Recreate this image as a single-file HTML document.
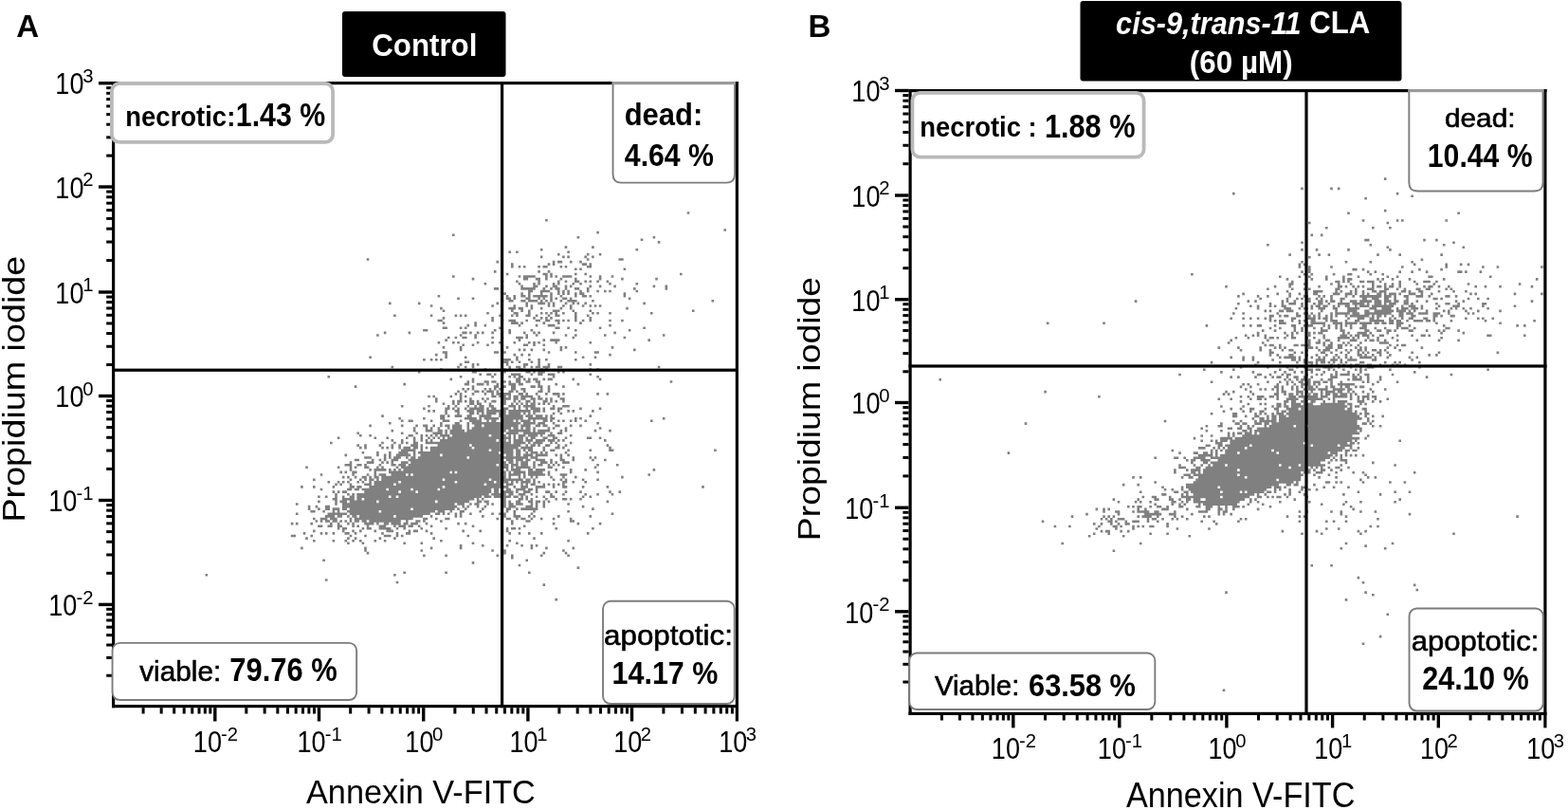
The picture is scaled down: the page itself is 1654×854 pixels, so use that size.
<!DOCTYPE html><html><head><meta charset="utf-8"><title>Annexin V / PI flow cytometry</title><style>html,body{margin:0;padding:0;background:#fff;width:1654px;height:854px;overflow:hidden}svg{display:block}</style></head><body><svg width="1654" height="854" viewBox="0 0 1654 854" font-family="'Liberation Sans', Arial, sans-serif">
<rect width="1654" height="854" fill="#fff"/>
<path fill="#808080" d="M724.7 223.2h2.6v2.58h-2.6zM575.1 230.9h2.6v2.58h-2.6zM763.4 241.2h2.6v2.58h-2.6zM629.3 243.8h2.6v2.58h-2.6zM477.0 246.4h2.6v2.58h-2.6zM608.6 249.0h2.6v2.58h-2.6zM688.6 249.0h2.6v2.58h-2.6zM675.7 251.5h2.6v2.58h-2.6zM693.8 254.1h2.6v2.58h-2.6zM595.7 259.3h2.6v2.58h-2.6zM624.1 259.3h2.6v2.58h-2.6zM569.9 261.9h2.6v2.58h-2.6zM670.5 261.9h2.6v2.58h-2.6zM536.4 264.4h2.6v2.58h-2.6zM544.1 264.4h2.6v2.58h-2.6zM598.3 264.4h2.6v2.58h-2.6zM588.0 267.0h2.6v2.58h-2.6zM618.9 267.0h2.6v2.58h-2.6zM631.8 267.0h2.6v2.58h-2.6zM569.9 269.6h2.6v2.58h-2.6zM593.1 269.6h2.6v2.58h-2.6zM598.3 269.6h2.6v2.58h-2.6zM616.4 269.6h2.6v2.58h-2.6zM624.1 269.6h2.6v2.58h-2.6zM386.7 272.2h2.6v2.58h-2.6zM618.9 272.2h2.6v2.58h-2.6zM652.5 272.2h5.2v2.58h-5.2zM523.5 274.8h2.6v2.58h-2.6zM582.8 274.8h2.6v2.58h-2.6zM588.0 274.8h5.2v2.58h-5.2zM600.9 274.8h2.6v2.58h-2.6zM611.2 274.8h2.6v2.58h-2.6zM539.0 277.3h2.6v2.58h-2.6zM577.7 277.3h2.6v2.58h-2.6zM582.8 277.3h2.6v2.58h-2.6zM613.8 277.3h5.2v2.58h-5.2zM621.5 277.3h2.6v2.58h-2.6zM539.0 279.9h2.6v2.58h-2.6zM546.7 279.9h2.6v2.58h-2.6zM551.9 279.9h2.6v2.58h-2.6zM567.3 279.9h2.6v2.58h-2.6zM572.5 279.9h5.2v2.58h-5.2zM590.6 279.9h2.6v2.58h-2.6zM595.7 279.9h2.6v2.58h-2.6zM618.9 279.9h5.2v2.58h-5.2zM606.0 282.5h2.6v2.58h-2.6zM611.2 282.5h2.6v2.58h-2.6zM657.6 282.5h2.6v2.58h-2.6zM520.9 285.1h2.6v2.58h-2.6zM567.3 285.1h2.6v2.58h-2.6zM577.7 285.1h2.6v2.58h-2.6zM533.8 287.7h2.6v2.58h-2.6zM572.5 287.7h5.2v2.58h-5.2zM580.2 287.7h2.6v2.58h-2.6zM606.0 287.7h2.6v2.58h-2.6zM616.4 287.7h2.6v2.58h-2.6zM717.0 287.7h2.6v2.58h-2.6zM477.0 290.2h2.6v2.58h-2.6zM546.7 290.2h2.6v2.58h-2.6zM551.9 290.2h12.9v2.58h-12.9zM575.1 290.2h2.6v2.58h-2.6zM580.2 290.2h2.6v2.58h-2.6zM585.4 290.2h2.6v2.58h-2.6zM593.1 290.2h10.3v2.58h-10.3zM621.5 290.2h2.6v2.58h-2.6zM631.8 290.2h2.6v2.58h-2.6zM644.7 290.2h2.6v2.58h-2.6zM497.7 292.8h2.6v2.58h-2.6zM551.9 292.8h5.2v2.58h-5.2zM564.8 292.8h5.2v2.58h-5.2zM575.1 292.8h2.6v2.58h-2.6zM590.6 292.8h2.6v2.58h-2.6zM606.0 292.8h2.6v2.58h-2.6zM631.8 292.8h2.6v2.58h-2.6zM655.1 292.8h2.6v2.58h-2.6zM691.2 292.8h2.6v2.58h-2.6zM528.6 295.4h2.6v2.58h-2.6zM544.1 295.4h2.6v2.58h-2.6zM567.3 295.4h2.6v2.58h-2.6zM588.0 295.4h2.6v2.58h-2.6zM595.7 295.4h2.6v2.58h-2.6zM606.0 295.4h5.2v2.58h-5.2zM616.4 295.4h2.6v2.58h-2.6zM621.5 295.4h2.6v2.58h-2.6zM629.3 295.4h2.6v2.58h-2.6zM639.6 295.4h2.6v2.58h-2.6zM510.6 298.0h2.6v2.58h-2.6zM546.7 298.0h2.6v2.58h-2.6zM562.2 298.0h2.6v2.58h-2.6zM567.3 298.0h2.6v2.58h-2.6zM582.8 298.0h2.6v2.58h-2.6zM588.0 298.0h2.6v2.58h-2.6zM603.5 298.0h2.6v2.58h-2.6zM611.2 298.0h2.6v2.58h-2.6zM642.2 298.0h2.6v2.58h-2.6zM670.5 298.0h2.6v2.58h-2.6zM528.6 300.6h2.6v2.58h-2.6zM549.3 300.6h2.6v2.58h-2.6zM562.2 300.6h5.2v2.58h-5.2zM575.1 300.6h2.6v2.58h-2.6zM582.8 300.6h5.2v2.58h-5.2zM595.7 300.6h2.6v2.58h-2.6zM600.9 300.6h2.6v2.58h-2.6zM621.5 300.6h2.6v2.58h-2.6zM631.8 300.6h2.6v2.58h-2.6zM647.3 300.6h2.6v2.58h-2.6zM688.6 300.6h2.6v2.58h-2.6zM701.5 300.6h2.6v2.58h-2.6zM520.9 303.1h5.2v2.58h-5.2zM528.6 303.1h2.6v2.58h-2.6zM549.3 303.1h15.5v2.58h-15.5zM572.5 303.1h2.6v2.58h-2.6zM580.2 303.1h2.6v2.58h-2.6zM585.4 303.1h5.2v2.58h-5.2zM595.7 303.1h2.6v2.58h-2.6zM606.0 303.1h5.2v2.58h-5.2zM618.9 303.1h2.6v2.58h-2.6zM668.0 303.1h2.6v2.58h-2.6zM701.5 303.1h2.6v2.58h-2.6zM557.0 305.7h5.2v2.58h-5.2zM569.9 305.7h10.3v2.58h-10.3zM588.0 305.7h2.6v2.58h-2.6zM593.1 305.7h2.6v2.58h-2.6zM598.3 305.7h2.6v2.58h-2.6zM611.2 305.7h2.6v2.58h-2.6zM618.9 305.7h2.6v2.58h-2.6zM629.3 305.7h2.6v2.58h-2.6zM637.0 305.7h2.6v2.58h-2.6zM642.2 305.7h2.6v2.58h-2.6zM670.5 305.7h2.6v2.58h-2.6zM531.2 308.3h2.6v2.58h-2.6zM549.3 308.3h2.6v2.58h-2.6zM557.0 308.3h2.6v2.58h-2.6zM569.9 308.3h2.6v2.58h-2.6zM580.2 308.3h2.6v2.58h-2.6zM588.0 308.3h2.6v2.58h-2.6zM593.1 308.3h2.6v2.58h-2.6zM598.3 308.3h2.6v2.58h-2.6zM606.0 308.3h2.6v2.58h-2.6zM611.2 308.3h5.2v2.58h-5.2zM657.6 308.3h2.6v2.58h-2.6zM461.6 310.9h2.6v2.58h-2.6zM533.8 310.9h2.6v2.58h-2.6zM541.5 310.9h2.6v2.58h-2.6zM549.3 310.9h5.2v2.58h-5.2zM557.0 310.9h2.6v2.58h-2.6zM562.2 310.9h15.5v2.58h-15.5zM580.2 310.9h2.6v2.58h-2.6zM590.6 310.9h2.6v2.58h-2.6zM606.0 310.9h2.6v2.58h-2.6zM613.8 310.9h5.2v2.58h-5.2zM621.5 310.9h2.6v2.58h-2.6zM657.6 310.9h2.6v2.58h-2.6zM482.2 313.5h2.6v2.58h-2.6zM497.7 313.5h2.6v2.58h-2.6zM533.8 313.5h5.2v2.58h-5.2zM541.5 313.5h2.6v2.58h-2.6zM554.4 313.5h5.2v2.58h-5.2zM567.3 313.5h2.6v2.58h-2.6zM572.5 313.5h2.6v2.58h-2.6zM580.2 313.5h2.6v2.58h-2.6zM585.4 313.5h2.6v2.58h-2.6zM593.1 313.5h5.2v2.58h-5.2zM600.9 313.5h2.6v2.58h-2.6zM662.8 313.5h2.6v2.58h-2.6zM528.6 316.0h2.6v2.58h-2.6zM536.4 316.0h5.2v2.58h-5.2zM549.3 316.0h5.2v2.58h-5.2zM557.0 316.0h10.3v2.58h-10.3zM569.9 316.0h2.6v2.58h-2.6zM575.1 316.0h2.6v2.58h-2.6zM580.2 316.0h2.6v2.58h-2.6zM590.6 316.0h2.6v2.58h-2.6zM598.3 316.0h10.3v2.58h-10.3zM624.1 316.0h2.6v2.58h-2.6zM750.5 316.0h2.6v2.58h-2.6zM410.0 318.6h2.6v2.58h-2.6zM440.9 318.6h2.6v2.58h-2.6zM523.5 318.6h2.6v2.58h-2.6zM554.4 318.6h2.6v2.58h-2.6zM567.3 318.6h7.7v2.58h-7.7zM577.7 318.6h2.6v2.58h-2.6zM582.8 318.6h2.6v2.58h-2.6zM595.7 318.6h2.6v2.58h-2.6zM603.5 318.6h2.6v2.58h-2.6zM608.6 318.6h2.6v2.58h-2.6zM616.4 318.6h2.6v2.58h-2.6zM678.3 318.6h2.6v2.58h-2.6zM453.8 321.2h2.6v2.58h-2.6zM518.3 321.2h2.6v2.58h-2.6zM541.5 321.2h2.6v2.58h-2.6zM554.4 321.2h2.6v2.58h-2.6zM559.6 321.2h2.6v2.58h-2.6zM577.7 321.2h2.6v2.58h-2.6zM582.8 321.2h2.6v2.58h-2.6zM593.1 321.2h2.6v2.58h-2.6zM600.9 321.2h2.6v2.58h-2.6zM613.8 321.2h2.6v2.58h-2.6zM621.5 321.2h2.6v2.58h-2.6zM626.7 321.2h2.6v2.58h-2.6zM631.8 321.2h2.6v2.58h-2.6zM464.1 323.8h2.6v2.58h-2.6zM536.4 323.8h7.7v2.58h-7.7zM546.7 323.8h5.2v2.58h-5.2zM559.6 323.8h2.6v2.58h-2.6zM569.9 323.8h2.6v2.58h-2.6zM590.6 323.8h2.6v2.58h-2.6zM600.9 323.8h2.6v2.58h-2.6zM660.2 323.8h2.6v2.58h-2.6zM466.7 326.4h2.6v2.58h-2.6zM539.0 326.4h2.6v2.58h-2.6zM549.3 326.4h2.6v2.58h-2.6zM557.0 326.4h2.6v2.58h-2.6zM582.8 326.4h7.7v2.58h-7.7zM603.5 326.4h2.6v2.58h-2.6zM621.5 326.4h2.6v2.58h-2.6zM729.9 326.4h2.6v2.58h-2.6zM513.2 328.9h2.6v2.58h-2.6zM541.5 328.9h5.2v2.58h-5.2zM557.0 328.9h2.6v2.58h-2.6zM569.9 328.9h2.6v2.58h-2.6zM575.1 328.9h2.6v2.58h-2.6zM580.2 328.9h2.6v2.58h-2.6zM585.4 328.9h2.6v2.58h-2.6zM593.1 328.9h2.6v2.58h-2.6zM606.0 328.9h2.6v2.58h-2.6zM624.1 328.9h2.6v2.58h-2.6zM629.3 328.9h2.6v2.58h-2.6zM642.2 328.9h2.6v2.58h-2.6zM686.0 328.9h2.6v2.58h-2.6zM415.1 331.5h2.6v2.58h-2.6zM453.8 331.5h2.6v2.58h-2.6zM479.6 331.5h2.6v2.58h-2.6zM484.8 331.5h2.6v2.58h-2.6zM489.9 331.5h2.6v2.58h-2.6zM526.1 331.5h2.6v2.58h-2.6zM539.0 331.5h2.6v2.58h-2.6zM544.1 331.5h2.6v2.58h-2.6zM554.4 331.5h5.2v2.58h-5.2zM564.8 331.5h2.6v2.58h-2.6zM577.7 331.5h2.6v2.58h-2.6zM585.4 331.5h5.2v2.58h-5.2zM606.0 331.5h2.6v2.58h-2.6zM618.9 331.5h2.6v2.58h-2.6zM466.7 334.1h2.6v2.58h-2.6zM518.3 334.1h2.6v2.58h-2.6zM562.2 334.1h2.6v2.58h-2.6zM569.9 334.1h2.6v2.58h-2.6zM575.1 334.1h2.6v2.58h-2.6zM580.2 334.1h2.6v2.58h-2.6zM606.0 334.1h2.6v2.58h-2.6zM621.5 334.1h2.6v2.58h-2.6zM461.6 336.7h5.2v2.58h-5.2zM518.3 336.7h2.6v2.58h-2.6zM528.6 336.7h2.6v2.58h-2.6zM536.4 336.7h7.7v2.58h-7.7zM554.4 336.7h2.6v2.58h-2.6zM564.8 336.7h5.2v2.58h-5.2zM575.1 336.7h5.2v2.58h-5.2zM585.4 336.7h5.2v2.58h-5.2zM593.1 336.7h2.6v2.58h-2.6zM598.3 336.7h2.6v2.58h-2.6zM606.0 336.7h2.6v2.58h-2.6zM613.8 336.7h2.6v2.58h-2.6zM621.5 336.7h2.6v2.58h-2.6zM642.2 336.7h2.6v2.58h-2.6zM655.1 336.7h2.6v2.58h-2.6zM466.7 339.3h2.6v2.58h-2.6zM500.3 339.3h2.6v2.58h-2.6zM539.0 339.3h7.7v2.58h-7.7zM549.3 339.3h2.6v2.58h-2.6zM572.5 339.3h2.6v2.58h-2.6zM588.0 339.3h2.6v2.58h-2.6zM611.2 339.3h2.6v2.58h-2.6zM492.5 341.8h2.6v2.58h-2.6zM500.3 341.8h2.6v2.58h-2.6zM510.6 341.8h2.6v2.58h-2.6zM546.7 341.8h2.6v2.58h-2.6zM564.8 341.8h2.6v2.58h-2.6zM577.7 341.8h7.7v2.58h-7.7zM642.2 341.8h2.6v2.58h-2.6zM466.7 344.4h5.2v2.58h-5.2zM484.8 344.4h2.6v2.58h-2.6zM489.9 344.4h2.6v2.58h-2.6zM526.1 344.4h2.6v2.58h-2.6zM585.4 344.4h5.2v2.58h-5.2zM598.3 344.4h2.6v2.58h-2.6zM631.8 344.4h2.6v2.58h-2.6zM678.3 344.4h2.6v2.58h-2.6zM446.1 347.0h5.2v2.58h-5.2zM520.9 347.0h2.6v2.58h-2.6zM536.4 347.0h2.6v2.58h-2.6zM559.6 347.0h2.6v2.58h-2.6zM606.0 347.0h2.6v2.58h-2.6zM662.8 347.0h2.6v2.58h-2.6zM404.8 349.6h2.6v2.58h-2.6zM430.6 349.6h2.6v2.58h-2.6zM487.4 349.6h5.2v2.58h-5.2zM495.1 349.6h2.6v2.58h-2.6zM502.8 349.6h2.6v2.58h-2.6zM508.0 349.6h2.6v2.58h-2.6zM518.3 349.6h2.6v2.58h-2.6zM536.4 349.6h2.6v2.58h-2.6zM551.9 349.6h2.6v2.58h-2.6zM562.2 349.6h2.6v2.58h-2.6zM567.3 349.6h2.6v2.58h-2.6zM582.8 349.6h2.6v2.58h-2.6zM647.3 349.6h2.6v2.58h-2.6zM397.1 352.2h2.6v2.58h-2.6zM484.8 352.2h2.6v2.58h-2.6zM500.3 352.2h2.6v2.58h-2.6zM554.4 352.2h2.6v2.58h-2.6zM564.8 352.2h2.6v2.58h-2.6zM595.7 352.2h2.6v2.58h-2.6zM606.0 352.2h2.6v2.58h-2.6zM637.0 352.2h2.6v2.58h-2.6zM698.9 352.2h2.6v2.58h-2.6zM471.9 354.7h2.6v2.58h-2.6zM479.6 354.7h2.6v2.58h-2.6zM487.4 354.7h5.2v2.58h-5.2zM500.3 354.7h2.6v2.58h-2.6zM518.3 354.7h2.6v2.58h-2.6zM528.6 354.7h2.6v2.58h-2.6zM544.1 354.7h7.7v2.58h-7.7zM554.4 354.7h2.6v2.58h-2.6zM603.5 354.7h2.6v2.58h-2.6zM657.6 354.7h2.6v2.58h-2.6zM469.3 357.3h2.6v2.58h-2.6zM546.7 357.3h2.6v2.58h-2.6zM572.5 357.3h2.6v2.58h-2.6zM580.2 357.3h10.3v2.58h-10.3zM683.4 357.3h2.6v2.58h-2.6zM461.6 359.9h2.6v2.58h-2.6zM477.0 359.9h2.6v2.58h-2.6zM482.2 359.9h2.6v2.58h-2.6zM502.8 359.9h2.6v2.58h-2.6zM518.3 359.9h2.6v2.58h-2.6zM526.1 359.9h2.6v2.58h-2.6zM541.5 359.9h2.6v2.58h-2.6zM557.0 359.9h2.6v2.58h-2.6zM562.2 359.9h2.6v2.58h-2.6zM567.3 359.9h2.6v2.58h-2.6zM585.4 359.9h2.6v2.58h-2.6zM621.5 359.9h2.6v2.58h-2.6zM487.4 362.5h2.6v2.58h-2.6zM497.7 362.5h2.6v2.58h-2.6zM513.2 362.5h2.6v2.58h-2.6zM551.9 362.5h5.2v2.58h-5.2zM562.2 362.5h2.6v2.58h-2.6zM572.5 362.5h2.6v2.58h-2.6zM466.7 365.1h2.6v2.58h-2.6zM484.8 365.1h2.6v2.58h-2.6zM533.8 365.1h2.6v2.58h-2.6zM590.6 365.1h2.6v2.58h-2.6zM595.7 365.1h2.6v2.58h-2.6zM644.7 365.1h2.6v2.58h-2.6zM484.8 367.6h2.6v2.58h-2.6zM528.6 367.6h2.6v2.58h-2.6zM546.7 367.6h2.6v2.58h-2.6zM551.9 367.6h2.6v2.58h-2.6zM559.6 367.6h2.6v2.58h-2.6zM572.5 367.6h2.6v2.58h-2.6zM590.6 367.6h2.6v2.58h-2.6zM668.0 367.6h2.6v2.58h-2.6zM466.7 370.2h5.2v2.58h-5.2zM520.9 370.2h5.2v2.58h-5.2zM531.2 370.2h2.6v2.58h-2.6zM577.7 370.2h2.6v2.58h-2.6zM606.0 370.2h2.6v2.58h-2.6zM626.7 370.2h5.2v2.58h-5.2zM459.0 372.8h2.6v2.58h-2.6zM469.3 372.8h2.6v2.58h-2.6zM541.5 372.8h2.6v2.58h-2.6zM549.3 372.8h2.6v2.58h-2.6zM557.0 372.8h2.6v2.58h-2.6zM642.2 372.8h2.6v2.58h-2.6zM389.3 375.4h2.6v2.58h-2.6zM469.3 375.4h2.6v2.58h-2.6zM489.9 375.4h2.6v2.58h-2.6zM544.1 375.4h2.6v2.58h-2.6zM613.8 375.4h2.6v2.58h-2.6zM626.7 375.4h2.6v2.58h-2.6zM446.1 378.0h2.6v2.58h-2.6zM453.8 378.0h2.6v2.58h-2.6zM459.0 378.0h2.6v2.58h-2.6zM464.1 378.0h2.6v2.58h-2.6zM531.2 378.0h7.7v2.58h-7.7zM544.1 378.0h2.6v2.58h-2.6zM557.0 378.0h2.6v2.58h-2.6zM567.3 378.0h2.6v2.58h-2.6zM575.1 378.0h2.6v2.58h-2.6zM606.0 378.0h2.6v2.58h-2.6zM489.9 380.5h5.2v2.58h-5.2zM531.2 380.5h5.2v2.58h-5.2zM539.0 380.5h2.6v2.58h-2.6zM546.7 380.5h2.6v2.58h-2.6zM559.6 380.5h2.6v2.58h-2.6zM567.3 380.5h2.6v2.58h-2.6zM484.8 383.1h2.6v2.58h-2.6zM497.7 383.1h2.6v2.58h-2.6zM502.8 383.1h2.6v2.58h-2.6zM533.8 383.1h2.6v2.58h-2.6zM551.9 383.1h5.2v2.58h-5.2zM567.3 383.1h2.6v2.58h-2.6zM577.7 383.1h2.6v2.58h-2.6zM621.5 383.1h2.6v2.58h-2.6zM412.5 385.7h2.6v2.58h-2.6zM482.2 385.7h2.6v2.58h-2.6zM489.9 385.7h2.6v2.58h-2.6zM497.7 385.7h2.6v2.58h-2.6zM536.4 385.7h2.6v2.58h-2.6zM544.1 385.7h5.2v2.58h-5.2zM551.9 385.7h2.6v2.58h-2.6zM559.6 385.7h2.6v2.58h-2.6zM564.8 385.7h5.2v2.58h-5.2zM572.5 385.7h7.7v2.58h-7.7zM588.0 385.7h5.2v2.58h-5.2zM693.8 385.7h2.6v2.58h-2.6zM464.1 388.3h2.6v2.58h-2.6zM510.6 388.3h2.6v2.58h-2.6zM528.6 388.3h5.2v2.58h-5.2zM536.4 388.3h2.6v2.58h-2.6zM546.7 388.3h5.2v2.58h-5.2zM569.9 388.3h2.6v2.58h-2.6zM575.1 388.3h2.6v2.58h-2.6zM621.5 388.3h2.6v2.58h-2.6zM629.3 388.3h2.6v2.58h-2.6zM440.9 390.9h2.6v2.58h-2.6zM497.7 390.9h5.2v2.58h-5.2zM531.2 390.9h2.6v2.58h-2.6zM554.4 390.9h5.2v2.58h-5.2zM562.2 390.9h2.6v2.58h-2.6zM567.3 390.9h7.7v2.58h-7.7zM588.0 390.9h2.6v2.58h-2.6zM593.1 390.9h2.6v2.58h-2.6zM505.4 393.4h2.6v2.58h-2.6zM513.2 393.4h5.2v2.58h-5.2zM520.9 393.4h2.6v2.58h-2.6zM528.6 393.4h2.6v2.58h-2.6zM539.0 393.4h10.3v2.58h-10.3zM559.6 393.4h2.6v2.58h-2.6zM567.3 393.4h5.2v2.58h-5.2zM577.7 393.4h7.7v2.58h-7.7zM621.5 393.4h2.6v2.58h-2.6zM345.5 396.0h2.6v2.58h-2.6zM484.8 396.0h2.6v2.58h-2.6zM518.3 396.0h2.6v2.58h-2.6zM536.4 396.0h2.6v2.58h-2.6zM541.5 396.0h2.6v2.58h-2.6zM546.7 396.0h5.2v2.58h-5.2zM582.8 396.0h2.6v2.58h-2.6zM629.3 396.0h2.6v2.58h-2.6zM474.5 398.6h2.6v2.58h-2.6zM497.7 398.6h2.6v2.58h-2.6zM544.1 398.6h5.2v2.58h-5.2zM551.9 398.6h2.6v2.58h-2.6zM557.0 398.6h2.6v2.58h-2.6zM562.2 398.6h5.2v2.58h-5.2zM572.5 398.6h2.6v2.58h-2.6zM577.7 398.6h5.2v2.58h-5.2zM603.5 398.6h2.6v2.58h-2.6zM631.8 398.6h2.6v2.58h-2.6zM492.5 401.2h2.6v2.58h-2.6zM497.7 401.2h2.6v2.58h-2.6zM510.6 401.2h5.2v2.58h-5.2zM518.3 401.2h5.2v2.58h-5.2zM531.2 401.2h2.6v2.58h-2.6zM536.4 401.2h2.6v2.58h-2.6zM544.1 401.2h5.2v2.58h-5.2zM554.4 401.2h5.2v2.58h-5.2zM564.8 401.2h5.2v2.58h-5.2zM706.7 401.2h2.6v2.58h-2.6zM425.4 403.8h2.6v2.58h-2.6zM489.9 403.8h5.2v2.58h-5.2zM502.8 403.8h7.7v2.58h-7.7zM513.2 403.8h2.6v2.58h-2.6zM523.5 403.8h2.6v2.58h-2.6zM536.4 403.8h7.7v2.58h-7.7zM546.7 403.8h5.2v2.58h-5.2zM567.3 403.8h2.6v2.58h-2.6zM585.4 403.8h2.6v2.58h-2.6zM608.6 403.8h2.6v2.58h-2.6zM373.8 406.3h2.6v2.58h-2.6zM497.7 406.3h2.6v2.58h-2.6zM520.9 406.3h5.2v2.58h-5.2zM528.6 406.3h5.2v2.58h-5.2zM539.0 406.3h5.2v2.58h-5.2zM559.6 406.3h5.2v2.58h-5.2zM567.3 406.3h5.2v2.58h-5.2zM577.7 406.3h2.6v2.58h-2.6zM593.1 406.3h2.6v2.58h-2.6zM487.4 408.9h2.6v2.58h-2.6zM492.5 408.9h2.6v2.58h-2.6zM497.7 408.9h2.6v2.58h-2.6zM510.6 408.9h2.6v2.58h-2.6zM515.7 408.9h2.6v2.58h-2.6zM520.9 408.9h2.6v2.58h-2.6zM526.1 408.9h5.2v2.58h-5.2zM539.0 408.9h5.2v2.58h-5.2zM549.3 408.9h5.2v2.58h-5.2zM569.9 408.9h2.6v2.58h-2.6zM577.7 408.9h2.6v2.58h-2.6zM482.2 411.5h2.6v2.58h-2.6zM489.9 411.5h2.6v2.58h-2.6zM500.3 411.5h5.2v2.58h-5.2zM508.0 411.5h2.6v2.58h-2.6zM513.2 411.5h7.7v2.58h-7.7zM523.5 411.5h2.6v2.58h-2.6zM536.4 411.5h5.2v2.58h-5.2zM544.1 411.5h2.6v2.58h-2.6zM551.9 411.5h2.6v2.58h-2.6zM567.3 411.5h5.2v2.58h-5.2zM577.7 411.5h2.6v2.58h-2.6zM479.6 414.1h2.6v2.58h-2.6zM484.8 414.1h2.6v2.58h-2.6zM497.7 414.1h2.6v2.58h-2.6zM510.6 414.1h2.6v2.58h-2.6zM518.3 414.1h2.6v2.58h-2.6zM523.5 414.1h15.5v2.58h-15.5zM546.7 414.1h5.2v2.58h-5.2zM554.4 414.1h2.6v2.58h-2.6zM564.8 414.1h2.6v2.58h-2.6zM575.1 414.1h2.6v2.58h-2.6zM582.8 414.1h7.7v2.58h-7.7zM593.1 414.1h2.6v2.58h-2.6zM629.3 414.1h2.6v2.58h-2.6zM639.6 414.1h2.6v2.58h-2.6zM451.2 416.7h2.6v2.58h-2.6zM456.4 416.7h2.6v2.58h-2.6zM474.5 416.7h2.6v2.58h-2.6zM484.8 416.7h2.6v2.58h-2.6zM489.9 416.7h2.6v2.58h-2.6zM518.3 416.7h5.2v2.58h-5.2zM526.1 416.7h7.7v2.58h-7.7zM536.4 416.7h2.6v2.58h-2.6zM541.5 416.7h5.2v2.58h-5.2zM549.3 416.7h12.9v2.58h-12.9zM567.3 416.7h2.6v2.58h-2.6zM588.0 416.7h2.6v2.58h-2.6zM459.0 419.2h2.6v2.58h-2.6zM484.8 419.2h2.6v2.58h-2.6zM495.1 419.2h2.6v2.58h-2.6zM508.0 419.2h2.6v2.58h-2.6zM513.2 419.2h2.6v2.58h-2.6zM528.6 419.2h10.3v2.58h-10.3zM541.5 419.2h5.2v2.58h-5.2zM549.3 419.2h5.2v2.58h-5.2zM559.6 419.2h5.2v2.58h-5.2zM567.3 419.2h5.2v2.58h-5.2zM575.1 419.2h2.6v2.58h-2.6zM580.2 419.2h2.6v2.58h-2.6zM590.6 419.2h5.2v2.58h-5.2zM459.0 421.8h2.6v2.58h-2.6zM477.0 421.8h2.6v2.58h-2.6zM482.2 421.8h5.2v2.58h-5.2zM489.9 421.8h2.6v2.58h-2.6zM495.1 421.8h5.2v2.58h-5.2zM502.8 421.8h2.6v2.58h-2.6zM510.6 421.8h2.6v2.58h-2.6zM518.3 421.8h5.2v2.58h-5.2zM531.2 421.8h2.6v2.58h-2.6zM541.5 421.8h2.6v2.58h-2.6zM546.7 421.8h2.6v2.58h-2.6zM554.4 421.8h5.2v2.58h-5.2zM562.2 421.8h2.6v2.58h-2.6zM572.5 421.8h5.2v2.58h-5.2zM580.2 421.8h2.6v2.58h-2.6zM585.4 421.8h2.6v2.58h-2.6zM593.1 421.8h2.6v2.58h-2.6zM466.7 424.4h2.6v2.58h-2.6zM477.0 424.4h2.6v2.58h-2.6zM482.2 424.4h2.6v2.58h-2.6zM495.1 424.4h5.2v2.58h-5.2zM502.8 424.4h5.2v2.58h-5.2zM515.7 424.4h2.6v2.58h-2.6zM531.2 424.4h2.6v2.58h-2.6zM539.0 424.4h2.6v2.58h-2.6zM544.1 424.4h2.6v2.58h-2.6zM549.3 424.4h2.6v2.58h-2.6zM554.4 424.4h2.6v2.58h-2.6zM559.6 424.4h5.2v2.58h-5.2zM567.3 424.4h2.6v2.58h-2.6zM572.5 424.4h2.6v2.58h-2.6zM577.7 424.4h2.6v2.58h-2.6zM422.9 427.0h2.6v2.58h-2.6zM451.2 427.0h2.6v2.58h-2.6zM471.9 427.0h2.6v2.58h-2.6zM479.6 427.0h2.6v2.58h-2.6zM492.5 427.0h2.6v2.58h-2.6zM500.3 427.0h2.6v2.58h-2.6zM505.4 427.0h5.2v2.58h-5.2zM515.7 427.0h5.2v2.58h-5.2zM536.4 427.0h7.7v2.58h-7.7zM546.7 427.0h2.6v2.58h-2.6zM551.9 427.0h12.9v2.58h-12.9zM582.8 427.0h2.6v2.58h-2.6zM593.1 427.0h7.7v2.58h-7.7zM446.1 429.6h2.6v2.58h-2.6zM469.3 429.6h5.2v2.58h-5.2zM477.0 429.6h2.6v2.58h-2.6zM482.2 429.6h2.6v2.58h-2.6zM489.9 429.6h2.6v2.58h-2.6zM495.1 429.6h15.5v2.58h-15.5zM513.2 429.6h2.6v2.58h-2.6zM518.3 429.6h5.2v2.58h-5.2zM528.6 429.6h7.7v2.58h-7.7zM541.5 429.6h2.6v2.58h-2.6zM546.7 429.6h2.6v2.58h-2.6zM554.4 429.6h2.6v2.58h-2.6zM559.6 429.6h10.3v2.58h-10.3zM572.5 429.6h2.6v2.58h-2.6zM580.2 429.6h5.2v2.58h-5.2zM588.0 429.6h5.2v2.58h-5.2zM611.2 429.6h2.6v2.58h-2.6zM631.8 429.6h2.6v2.58h-2.6zM451.2 432.1h2.6v2.58h-2.6zM456.4 432.1h2.6v2.58h-2.6zM469.3 432.1h2.6v2.58h-2.6zM479.6 432.1h5.2v2.58h-5.2zM492.5 432.1h7.7v2.58h-7.7zM502.8 432.1h7.7v2.58h-7.7zM513.2 432.1h20.6v2.58h-20.6zM536.4 432.1h23.2v2.58h-23.2zM562.2 432.1h7.7v2.58h-7.7zM572.5 432.1h2.6v2.58h-2.6zM588.0 432.1h2.6v2.58h-2.6zM598.3 432.1h2.6v2.58h-2.6zM603.5 432.1h2.6v2.58h-2.6zM624.1 432.1h2.6v2.58h-2.6zM469.3 434.7h2.6v2.58h-2.6zM482.2 434.7h2.6v2.58h-2.6zM495.1 434.7h5.2v2.58h-5.2zM502.8 434.7h2.6v2.58h-2.6zM508.0 434.7h2.6v2.58h-2.6zM513.2 434.7h10.3v2.58h-10.3zM526.1 434.7h7.7v2.58h-7.7zM536.4 434.7h12.9v2.58h-12.9zM551.9 434.7h2.6v2.58h-2.6zM557.0 434.7h2.6v2.58h-2.6zM562.2 434.7h2.6v2.58h-2.6zM582.8 434.7h2.6v2.58h-2.6zM590.6 434.7h2.6v2.58h-2.6zM402.2 437.3h2.6v2.58h-2.6zM464.1 437.3h5.2v2.58h-5.2zM471.9 437.3h2.6v2.58h-2.6zM479.6 437.3h7.7v2.58h-7.7zM492.5 437.3h5.2v2.58h-5.2zM505.4 437.3h12.9v2.58h-12.9zM526.1 437.3h2.6v2.58h-2.6zM531.2 437.3h20.6v2.58h-20.6zM554.4 437.3h7.7v2.58h-7.7zM564.8 437.3h7.7v2.58h-7.7zM575.1 437.3h2.6v2.58h-2.6zM580.2 437.3h2.6v2.58h-2.6zM621.5 437.3h2.6v2.58h-2.6zM420.3 439.9h2.6v2.58h-2.6zM446.1 439.9h2.6v2.58h-2.6zM464.1 439.9h5.2v2.58h-5.2zM489.9 439.9h12.9v2.58h-12.9zM505.4 439.9h2.6v2.58h-2.6zM510.6 439.9h15.5v2.58h-15.5zM528.6 439.9h23.2v2.58h-23.2zM557.0 439.9h20.6v2.58h-20.6zM580.2 439.9h5.2v2.58h-5.2zM606.0 439.9h2.6v2.58h-2.6zM611.2 439.9h2.6v2.58h-2.6zM698.9 439.9h2.6v2.58h-2.6zM422.9 442.5h2.6v2.58h-2.6zM430.6 442.5h5.2v2.58h-5.2zM453.8 442.5h2.6v2.58h-2.6zM466.7 442.5h7.7v2.58h-7.7zM484.8 442.5h2.6v2.58h-2.6zM495.1 442.5h12.9v2.58h-12.9zM513.2 442.5h2.6v2.58h-2.6zM518.3 442.5h5.2v2.58h-5.2zM528.6 442.5h12.9v2.58h-12.9zM544.1 442.5h2.6v2.58h-2.6zM549.3 442.5h10.3v2.58h-10.3zM562.2 442.5h2.6v2.58h-2.6zM572.5 442.5h5.2v2.58h-5.2zM580.2 442.5h2.6v2.58h-2.6zM588.0 442.5h2.6v2.58h-2.6zM593.1 442.5h2.6v2.58h-2.6zM600.9 442.5h2.6v2.58h-2.6zM606.0 442.5h2.6v2.58h-2.6zM616.4 442.5h2.6v2.58h-2.6zM686.0 442.5h2.6v2.58h-2.6zM410.0 445.0h2.6v2.58h-2.6zM464.1 445.0h2.6v2.58h-2.6zM479.6 445.0h5.2v2.58h-5.2zM492.5 445.0h2.6v2.58h-2.6zM497.7 445.0h51.6v2.58h-51.6zM551.9 445.0h12.9v2.58h-12.9zM567.3 445.0h7.7v2.58h-7.7zM582.8 445.0h2.6v2.58h-2.6zM629.3 445.0h2.6v2.58h-2.6zM389.3 447.6h2.6v2.58h-2.6zM422.9 447.6h2.6v2.58h-2.6zM438.3 447.6h2.6v2.58h-2.6zM446.1 447.6h5.2v2.58h-5.2zM456.4 447.6h2.6v2.58h-2.6zM464.1 447.6h2.6v2.58h-2.6zM469.3 447.6h5.2v2.58h-5.2zM477.0 447.6h10.3v2.58h-10.3zM492.5 447.6h2.6v2.58h-2.6zM500.3 447.6h7.7v2.58h-7.7zM510.6 447.6h36.1v2.58h-36.1zM549.3 447.6h10.3v2.58h-10.3zM564.8 447.6h5.2v2.58h-5.2zM572.5 447.6h5.2v2.58h-5.2zM585.4 447.6h5.2v2.58h-5.2zM600.9 447.6h2.6v2.58h-2.6zM611.2 447.6h2.6v2.58h-2.6zM435.8 450.2h2.6v2.58h-2.6zM448.7 450.2h2.6v2.58h-2.6zM453.8 450.2h2.6v2.58h-2.6zM461.6 450.2h2.6v2.58h-2.6zM471.9 450.2h2.6v2.58h-2.6zM477.0 450.2h10.3v2.58h-10.3zM492.5 450.2h2.6v2.58h-2.6zM497.7 450.2h41.3v2.58h-41.3zM541.5 450.2h5.2v2.58h-5.2zM549.3 450.2h2.6v2.58h-2.6zM554.4 450.2h5.2v2.58h-5.2zM562.2 450.2h2.6v2.58h-2.6zM577.7 450.2h2.6v2.58h-2.6zM582.8 450.2h2.6v2.58h-2.6zM595.7 450.2h2.6v2.58h-2.6zM631.8 450.2h2.6v2.58h-2.6zM412.5 452.8h2.6v2.58h-2.6zM435.8 452.8h2.6v2.58h-2.6zM448.7 452.8h7.7v2.58h-7.7zM461.6 452.8h5.2v2.58h-5.2zM469.3 452.8h2.6v2.58h-2.6zM474.5 452.8h15.5v2.58h-15.5zM492.5 452.8h41.3v2.58h-41.3zM536.4 452.8h23.2v2.58h-23.2zM562.2 452.8h2.6v2.58h-2.6zM567.3 452.8h12.9v2.58h-12.9zM590.6 452.8h2.6v2.58h-2.6zM595.7 452.8h2.6v2.58h-2.6zM626.7 452.8h2.6v2.58h-2.6zM642.2 452.8h2.6v2.58h-2.6zM376.4 455.4h2.6v2.58h-2.6zM422.9 455.4h2.6v2.58h-2.6zM438.3 455.4h2.6v2.58h-2.6zM456.4 455.4h10.3v2.58h-10.3zM469.3 455.4h2.6v2.58h-2.6zM474.5 455.4h56.8v2.58h-56.8zM533.8 455.4h12.9v2.58h-12.9zM551.9 455.4h23.2v2.58h-23.2zM580.2 455.4h2.6v2.58h-2.6zM588.0 455.4h5.2v2.58h-5.2zM379.0 457.9h2.6v2.58h-2.6zM389.3 457.9h2.6v2.58h-2.6zM430.6 457.9h5.2v2.58h-5.2zM443.5 457.9h2.6v2.58h-2.6zM448.7 457.9h2.6v2.58h-2.6zM453.8 457.9h2.6v2.58h-2.6zM459.0 457.9h2.6v2.58h-2.6zM464.1 457.9h10.3v2.58h-10.3zM477.0 457.9h38.7v2.58h-38.7zM518.3 457.9h15.5v2.58h-15.5zM536.4 457.9h2.6v2.58h-2.6zM541.5 457.9h2.6v2.58h-2.6zM546.7 457.9h7.7v2.58h-7.7zM557.0 457.9h10.3v2.58h-10.3zM569.9 457.9h2.6v2.58h-2.6zM577.7 457.9h7.7v2.58h-7.7zM600.9 457.9h2.6v2.58h-2.6zM355.8 460.5h2.6v2.58h-2.6zM394.5 460.5h2.6v2.58h-2.6zM407.4 460.5h2.6v2.58h-2.6zM428.0 460.5h2.6v2.58h-2.6zM435.8 460.5h2.6v2.58h-2.6zM443.5 460.5h2.6v2.58h-2.6zM451.2 460.5h2.6v2.58h-2.6zM456.4 460.5h2.6v2.58h-2.6zM461.6 460.5h2.6v2.58h-2.6zM466.7 460.5h2.6v2.58h-2.6zM471.9 460.5h67.1v2.58h-67.1zM541.5 460.5h2.6v2.58h-2.6zM546.7 460.5h5.2v2.58h-5.2zM554.4 460.5h2.6v2.58h-2.6zM559.6 460.5h5.2v2.58h-5.2zM572.5 460.5h5.2v2.58h-5.2zM582.8 460.5h5.2v2.58h-5.2zM595.7 460.5h2.6v2.58h-2.6zM618.9 460.5h5.2v2.58h-5.2zM631.8 460.5h2.6v2.58h-2.6zM412.5 463.1h2.6v2.58h-2.6zM422.9 463.1h2.6v2.58h-2.6zM435.8 463.1h2.6v2.58h-2.6zM443.5 463.1h2.6v2.58h-2.6zM448.7 463.1h2.6v2.58h-2.6zM453.8 463.1h2.6v2.58h-2.6zM464.1 463.1h59.3v2.58h-59.3zM526.1 463.1h2.6v2.58h-2.6zM531.2 463.1h2.6v2.58h-2.6zM536.4 463.1h2.6v2.58h-2.6zM541.5 463.1h10.3v2.58h-10.3zM554.4 463.1h7.7v2.58h-7.7zM564.8 463.1h10.3v2.58h-10.3zM577.7 463.1h7.7v2.58h-7.7zM588.0 463.1h2.6v2.58h-2.6zM593.1 463.1h2.6v2.58h-2.6zM637.0 463.1h2.6v2.58h-2.6zM348.0 465.7h2.6v2.58h-2.6zM402.2 465.7h2.6v2.58h-2.6zM415.1 465.7h2.6v2.58h-2.6zM422.9 465.7h2.6v2.58h-2.6zM428.0 465.7h2.6v2.58h-2.6zM435.8 465.7h5.2v2.58h-5.2zM448.7 465.7h90.3v2.58h-90.3zM541.5 465.7h12.9v2.58h-12.9zM557.0 465.7h2.6v2.58h-2.6zM562.2 465.7h10.3v2.58h-10.3zM580.2 465.7h2.6v2.58h-2.6zM585.4 465.7h2.6v2.58h-2.6zM600.9 465.7h2.6v2.58h-2.6zM376.4 468.3h2.6v2.58h-2.6zM384.2 468.3h2.6v2.58h-2.6zM399.6 468.3h2.6v2.58h-2.6zM412.5 468.3h2.6v2.58h-2.6zM420.3 468.3h2.6v2.58h-2.6zM433.2 468.3h7.7v2.58h-7.7zM443.5 468.3h2.6v2.58h-2.6zM461.6 468.3h33.5v2.58h-33.5zM497.7 468.3h51.6v2.58h-51.6zM554.4 468.3h2.6v2.58h-2.6zM559.6 468.3h5.2v2.58h-5.2zM567.3 468.3h2.6v2.58h-2.6zM575.1 468.3h5.2v2.58h-5.2zM588.0 468.3h2.6v2.58h-2.6zM595.7 468.3h2.6v2.58h-2.6zM639.6 468.3h2.6v2.58h-2.6zM379.0 470.8h2.6v2.58h-2.6zM384.2 470.8h2.6v2.58h-2.6zM402.2 470.8h2.6v2.58h-2.6zM407.4 470.8h2.6v2.58h-2.6zM412.5 470.8h2.6v2.58h-2.6zM420.3 470.8h2.6v2.58h-2.6zM425.4 470.8h7.7v2.58h-7.7zM435.8 470.8h5.2v2.58h-5.2zM443.5 470.8h2.6v2.58h-2.6zM448.7 470.8h2.6v2.58h-2.6zM453.8 470.8h43.9v2.58h-43.9zM500.3 470.8h46.4v2.58h-46.4zM549.3 470.8h12.9v2.58h-12.9zM572.5 470.8h2.6v2.58h-2.6zM585.4 470.8h5.2v2.58h-5.2zM593.1 470.8h2.6v2.58h-2.6zM642.2 470.8h2.6v2.58h-2.6zM422.9 473.4h15.5v2.58h-15.5zM443.5 473.4h2.6v2.58h-2.6zM453.8 473.4h61.9v2.58h-61.9zM518.3 473.4h10.3v2.58h-10.3zM531.2 473.4h10.3v2.58h-10.3zM544.1 473.4h5.2v2.58h-5.2zM551.9 473.4h2.6v2.58h-2.6zM557.0 473.4h5.2v2.58h-5.2zM572.5 473.4h2.6v2.58h-2.6zM580.2 473.4h5.2v2.58h-5.2zM598.3 473.4h2.6v2.58h-2.6zM621.5 473.4h2.6v2.58h-2.6zM642.2 473.4h5.2v2.58h-5.2zM753.1 473.4h2.6v2.58h-2.6zM381.6 476.0h2.6v2.58h-2.6zM397.1 476.0h2.6v2.58h-2.6zM410.0 476.0h2.6v2.58h-2.6zM420.3 476.0h10.3v2.58h-10.3zM435.8 476.0h2.6v2.58h-2.6zM440.9 476.0h85.1v2.58h-85.1zM528.6 476.0h12.9v2.58h-12.9zM544.1 476.0h5.2v2.58h-5.2zM554.4 476.0h2.6v2.58h-2.6zM559.6 476.0h7.7v2.58h-7.7zM569.9 476.0h2.6v2.58h-2.6zM575.1 476.0h2.6v2.58h-2.6zM595.7 476.0h2.6v2.58h-2.6zM363.5 478.6h2.6v2.58h-2.6zM397.1 478.6h2.6v2.58h-2.6zM404.8 478.6h2.6v2.58h-2.6zM410.0 478.6h2.6v2.58h-2.6zM417.7 478.6h15.5v2.58h-15.5zM435.8 478.6h2.6v2.58h-2.6zM443.5 478.6h20.6v2.58h-20.6zM466.7 478.6h64.5v2.58h-64.5zM533.8 478.6h7.7v2.58h-7.7zM544.1 478.6h5.2v2.58h-5.2zM551.9 478.6h10.3v2.58h-10.3zM564.8 478.6h12.9v2.58h-12.9zM585.4 478.6h2.6v2.58h-2.6zM590.6 478.6h2.6v2.58h-2.6zM598.3 478.6h2.6v2.58h-2.6zM384.2 481.2h7.7v2.58h-7.7zM404.8 481.2h2.6v2.58h-2.6zM410.0 481.2h2.6v2.58h-2.6zM415.1 481.2h7.7v2.58h-7.7zM428.0 481.2h2.6v2.58h-2.6zM433.2 481.2h5.2v2.58h-5.2zM440.9 481.2h51.6v2.58h-51.6zM495.1 481.2h61.9v2.58h-61.9zM559.6 481.2h7.7v2.58h-7.7zM590.6 481.2h2.6v2.58h-2.6zM603.5 481.2h2.6v2.58h-2.6zM621.5 481.2h2.6v2.58h-2.6zM626.7 481.2h2.6v2.58h-2.6zM373.8 483.7h5.2v2.58h-5.2zM391.9 483.7h2.6v2.58h-2.6zM399.6 483.7h2.6v2.58h-2.6zM404.8 483.7h2.6v2.58h-2.6zM412.5 483.7h7.7v2.58h-7.7zM430.6 483.7h100.6v2.58h-100.6zM533.8 483.7h7.7v2.58h-7.7zM544.1 483.7h7.7v2.58h-7.7zM554.4 483.7h5.2v2.58h-5.2zM564.8 483.7h10.3v2.58h-10.3zM580.2 483.7h2.6v2.58h-2.6zM590.6 483.7h5.2v2.58h-5.2zM603.5 483.7h2.6v2.58h-2.6zM624.1 483.7h2.6v2.58h-2.6zM637.0 483.7h2.6v2.58h-2.6zM368.7 486.3h2.6v2.58h-2.6zM386.7 486.3h7.7v2.58h-7.7zM402.2 486.3h2.6v2.58h-2.6zM407.4 486.3h2.6v2.58h-2.6zM412.5 486.3h2.6v2.58h-2.6zM422.9 486.3h7.7v2.58h-7.7zM433.2 486.3h100.6v2.58h-100.6zM536.4 486.3h5.2v2.58h-5.2zM544.1 486.3h2.6v2.58h-2.6zM549.3 486.3h7.7v2.58h-7.7zM562.2 486.3h2.6v2.58h-2.6zM569.9 486.3h7.7v2.58h-7.7zM580.2 486.3h2.6v2.58h-2.6zM585.4 486.3h2.6v2.58h-2.6zM593.1 486.3h7.7v2.58h-7.7zM363.5 488.9h7.7v2.58h-7.7zM376.4 488.9h5.2v2.58h-5.2zM384.2 488.9h2.6v2.58h-2.6zM399.6 488.9h2.6v2.58h-2.6zM412.5 488.9h5.2v2.58h-5.2zM420.3 488.9h7.7v2.58h-7.7zM430.6 488.9h92.9v2.58h-92.9zM526.1 488.9h2.6v2.58h-2.6zM531.2 488.9h5.2v2.58h-5.2zM539.0 488.9h7.7v2.58h-7.7zM549.3 488.9h7.7v2.58h-7.7zM562.2 488.9h2.6v2.58h-2.6zM567.3 488.9h5.2v2.58h-5.2zM577.7 488.9h2.6v2.58h-2.6zM582.8 488.9h2.6v2.58h-2.6zM588.0 488.9h2.6v2.58h-2.6zM629.3 488.9h2.6v2.58h-2.6zM649.9 488.9h2.6v2.58h-2.6zM322.2 491.5h2.6v2.58h-2.6zM355.8 491.5h2.6v2.58h-2.6zM368.7 491.5h2.6v2.58h-2.6zM373.8 491.5h2.6v2.58h-2.6zM384.2 491.5h5.2v2.58h-5.2zM397.1 491.5h2.6v2.58h-2.6zM402.2 491.5h2.6v2.58h-2.6zM417.7 491.5h2.6v2.58h-2.6zM422.9 491.5h113.5v2.58h-113.5zM539.0 491.5h2.6v2.58h-2.6zM544.1 491.5h15.5v2.58h-15.5zM562.2 491.5h2.6v2.58h-2.6zM577.7 491.5h5.2v2.58h-5.2zM593.1 491.5h2.6v2.58h-2.6zM626.7 491.5h2.6v2.58h-2.6zM368.7 494.1h2.6v2.58h-2.6zM389.3 494.1h2.6v2.58h-2.6zM394.5 494.1h12.9v2.58h-12.9zM410.0 494.1h2.6v2.58h-2.6zM415.1 494.1h2.6v2.58h-2.6zM420.3 494.1h2.6v2.58h-2.6zM425.4 494.1h105.8v2.58h-105.8zM533.8 494.1h2.6v2.58h-2.6zM539.0 494.1h10.3v2.58h-10.3zM557.0 494.1h5.2v2.58h-5.2zM564.8 494.1h10.3v2.58h-10.3zM585.4 494.1h2.6v2.58h-2.6zM600.9 494.1h2.6v2.58h-2.6zM616.4 494.1h2.6v2.58h-2.6zM688.6 494.1h2.6v2.58h-2.6zM358.4 496.6h2.6v2.58h-2.6zM363.5 496.6h2.6v2.58h-2.6zM371.3 496.6h5.2v2.58h-5.2zM394.5 496.6h2.6v2.58h-2.6zM410.0 496.6h64.5v2.58h-64.5zM477.0 496.6h2.6v2.58h-2.6zM482.2 496.6h51.6v2.58h-51.6zM536.4 496.6h2.6v2.58h-2.6zM541.5 496.6h12.9v2.58h-12.9zM557.0 496.6h15.5v2.58h-15.5zM577.7 496.6h2.6v2.58h-2.6zM600.9 496.6h2.6v2.58h-2.6zM629.3 496.6h2.6v2.58h-2.6zM337.7 499.2h2.6v2.58h-2.6zM371.3 499.2h2.6v2.58h-2.6zM386.7 499.2h2.6v2.58h-2.6zM394.5 499.2h2.6v2.58h-2.6zM399.6 499.2h7.7v2.58h-7.7zM412.5 499.2h15.5v2.58h-15.5zM430.6 499.2h2.6v2.58h-2.6zM435.8 499.2h92.9v2.58h-92.9zM531.2 499.2h2.6v2.58h-2.6zM536.4 499.2h12.9v2.58h-12.9zM551.9 499.2h2.6v2.58h-2.6zM557.0 499.2h18.1v2.58h-18.1zM577.7 499.2h2.6v2.58h-2.6zM590.6 499.2h7.7v2.58h-7.7zM683.4 499.2h2.6v2.58h-2.6zM360.9 501.8h2.6v2.58h-2.6zM366.1 501.8h2.6v2.58h-2.6zM373.8 501.8h2.6v2.58h-2.6zM381.6 501.8h5.2v2.58h-5.2zM389.3 501.8h2.6v2.58h-2.6zM394.5 501.8h5.2v2.58h-5.2zM402.2 501.8h131.6v2.58h-131.6zM536.4 501.8h2.6v2.58h-2.6zM546.7 501.8h2.6v2.58h-2.6zM551.9 501.8h2.6v2.58h-2.6zM559.6 501.8h2.6v2.58h-2.6zM564.8 501.8h2.6v2.58h-2.6zM580.2 501.8h2.6v2.58h-2.6zM593.1 501.8h2.6v2.58h-2.6zM606.0 501.8h2.6v2.58h-2.6zM655.1 501.8h2.6v2.58h-2.6zM330.0 504.4h2.6v2.58h-2.6zM368.7 504.4h2.6v2.58h-2.6zM379.0 504.4h2.6v2.58h-2.6zM384.2 504.4h2.6v2.58h-2.6zM389.3 504.4h5.2v2.58h-5.2zM397.1 504.4h2.6v2.58h-2.6zM402.2 504.4h64.5v2.58h-64.5zM469.3 504.4h46.4v2.58h-46.4zM518.3 504.4h33.5v2.58h-33.5zM554.4 504.4h5.2v2.58h-5.2zM562.2 504.4h2.6v2.58h-2.6zM582.8 504.4h2.6v2.58h-2.6zM590.6 504.4h2.6v2.58h-2.6zM595.7 504.4h2.6v2.58h-2.6zM613.8 504.4h2.6v2.58h-2.6zM629.3 504.4h2.6v2.58h-2.6zM345.5 507.0h2.6v2.58h-2.6zM355.8 507.0h2.6v2.58h-2.6zM360.9 507.0h2.6v2.58h-2.6zM366.1 507.0h2.6v2.58h-2.6zM376.4 507.0h2.6v2.58h-2.6zM381.6 507.0h2.6v2.58h-2.6zM389.3 507.0h2.6v2.58h-2.6zM394.5 507.0h25.8v2.58h-25.8zM422.9 507.0h56.8v2.58h-56.8zM482.2 507.0h38.7v2.58h-38.7zM523.5 507.0h5.2v2.58h-5.2zM531.2 507.0h5.2v2.58h-5.2zM539.0 507.0h2.6v2.58h-2.6zM544.1 507.0h2.6v2.58h-2.6zM549.3 507.0h10.3v2.58h-10.3zM562.2 507.0h2.6v2.58h-2.6zM567.3 507.0h2.6v2.58h-2.6zM593.1 507.0h5.2v2.58h-5.2zM603.5 507.0h2.6v2.58h-2.6zM616.4 507.0h2.6v2.58h-2.6zM353.2 509.5h2.6v2.58h-2.6zM358.4 509.5h2.6v2.58h-2.6zM368.7 509.5h2.6v2.58h-2.6zM384.2 509.5h7.7v2.58h-7.7zM394.5 509.5h20.6v2.58h-20.6zM417.7 509.5h92.9v2.58h-92.9zM513.2 509.5h15.5v2.58h-15.5zM533.8 509.5h7.7v2.58h-7.7zM549.3 509.5h2.6v2.58h-2.6zM554.4 509.5h2.6v2.58h-2.6zM559.6 509.5h5.2v2.58h-5.2zM572.5 509.5h2.6v2.58h-2.6zM577.7 509.5h2.6v2.58h-2.6zM582.8 509.5h2.6v2.58h-2.6zM588.0 509.5h2.6v2.58h-2.6zM593.1 509.5h2.6v2.58h-2.6zM317.1 512.1h2.6v2.58h-2.6zM330.0 512.1h2.6v2.58h-2.6zM350.6 512.1h2.6v2.58h-2.6zM368.7 512.1h5.2v2.58h-5.2zM376.4 512.1h5.2v2.58h-5.2zM389.3 512.1h77.4v2.58h-77.4zM469.3 512.1h67.1v2.58h-67.1zM541.5 512.1h2.6v2.58h-2.6zM549.3 512.1h7.7v2.58h-7.7zM564.8 512.1h10.3v2.58h-10.3zM582.8 512.1h2.6v2.58h-2.6zM593.1 512.1h5.2v2.58h-5.2zM613.8 512.1h2.6v2.58h-2.6zM639.6 512.1h2.6v2.58h-2.6zM740.2 512.1h2.6v2.58h-2.6zM337.7 514.7h2.6v2.58h-2.6zM366.1 514.7h5.2v2.58h-5.2zM373.8 514.7h5.2v2.58h-5.2zM381.6 514.7h25.8v2.58h-25.8zM410.0 514.7h23.2v2.58h-23.2zM435.8 514.7h25.8v2.58h-25.8zM464.1 514.7h54.2v2.58h-54.2zM520.9 514.7h5.2v2.58h-5.2zM533.8 514.7h5.2v2.58h-5.2zM544.1 514.7h10.3v2.58h-10.3zM557.0 514.7h5.2v2.58h-5.2zM564.8 514.7h2.6v2.58h-2.6zM350.6 517.3h2.6v2.58h-2.6zM355.8 517.3h2.6v2.58h-2.6zM360.9 517.3h5.2v2.58h-5.2zM384.2 517.3h36.1v2.58h-36.1zM422.9 517.3h15.5v2.58h-15.5zM440.9 517.3h77.4v2.58h-77.4zM520.9 517.3h5.2v2.58h-5.2zM528.6 517.3h12.9v2.58h-12.9zM544.1 517.3h2.6v2.58h-2.6zM551.9 517.3h7.7v2.58h-7.7zM564.8 517.3h2.6v2.58h-2.6zM575.1 517.3h5.2v2.58h-5.2zM585.4 517.3h2.6v2.58h-2.6zM595.7 517.3h2.6v2.58h-2.6zM611.2 517.3h2.6v2.58h-2.6zM642.2 517.3h2.6v2.58h-2.6zM652.5 517.3h2.6v2.58h-2.6zM353.2 519.9h2.6v2.58h-2.6zM366.1 519.9h2.6v2.58h-2.6zM371.3 519.9h2.6v2.58h-2.6zM376.4 519.9h139.3v2.58h-139.3zM518.3 519.9h15.5v2.58h-15.5zM536.4 519.9h5.2v2.58h-5.2zM546.7 519.9h7.7v2.58h-7.7zM559.6 519.9h2.6v2.58h-2.6zM580.2 519.9h2.6v2.58h-2.6zM593.1 519.9h2.6v2.58h-2.6zM616.4 519.9h2.6v2.58h-2.6zM629.3 519.9h2.6v2.58h-2.6zM644.7 519.9h2.6v2.58h-2.6zM335.1 522.4h2.6v2.58h-2.6zM342.9 522.4h2.6v2.58h-2.6zM353.2 522.4h2.6v2.58h-2.6zM360.9 522.4h2.6v2.58h-2.6zM368.7 522.4h5.2v2.58h-5.2zM376.4 522.4h33.5v2.58h-33.5zM412.5 522.4h5.2v2.58h-5.2zM420.3 522.4h87.7v2.58h-87.7zM510.6 522.4h7.7v2.58h-7.7zM520.9 522.4h7.7v2.58h-7.7zM531.2 522.4h7.7v2.58h-7.7zM541.5 522.4h5.2v2.58h-5.2zM549.3 522.4h2.6v2.58h-2.6zM554.4 522.4h2.6v2.58h-2.6zM564.8 522.4h2.6v2.58h-2.6zM572.5 522.4h2.6v2.58h-2.6zM580.2 522.4h5.2v2.58h-5.2zM613.8 522.4h2.6v2.58h-2.6zM621.5 522.4h2.6v2.58h-2.6zM350.6 525.0h5.2v2.58h-5.2zM360.9 525.0h12.9v2.58h-12.9zM376.4 525.0h5.2v2.58h-5.2zM384.2 525.0h116.1v2.58h-116.1zM502.8 525.0h2.6v2.58h-2.6zM508.0 525.0h2.6v2.58h-2.6zM531.2 525.0h2.6v2.58h-2.6zM546.7 525.0h5.2v2.58h-5.2zM554.4 525.0h2.6v2.58h-2.6zM559.6 525.0h2.6v2.58h-2.6zM575.1 525.0h2.6v2.58h-2.6zM585.4 525.0h2.6v2.58h-2.6zM593.1 525.0h5.2v2.58h-5.2zM600.9 525.0h2.6v2.58h-2.6zM611.2 525.0h2.6v2.58h-2.6zM335.1 527.6h2.6v2.58h-2.6zM353.2 527.6h2.6v2.58h-2.6zM358.4 527.6h7.7v2.58h-7.7zM368.7 527.6h28.4v2.58h-28.4zM399.6 527.6h59.3v2.58h-59.3zM461.6 527.6h33.5v2.58h-33.5zM502.8 527.6h5.2v2.58h-5.2zM510.6 527.6h5.2v2.58h-5.2zM531.2 527.6h2.6v2.58h-2.6zM536.4 527.6h2.6v2.58h-2.6zM544.1 527.6h5.2v2.58h-5.2zM557.0 527.6h5.2v2.58h-5.2zM564.8 527.6h5.2v2.58h-5.2zM572.5 527.6h2.6v2.58h-2.6zM577.7 527.6h2.6v2.58h-2.6zM639.6 527.6h2.6v2.58h-2.6zM311.9 530.2h2.6v2.58h-2.6zM353.2 530.2h2.6v2.58h-2.6zM360.9 530.2h118.7v2.58h-118.7zM482.2 530.2h7.7v2.58h-7.7zM495.1 530.2h2.6v2.58h-2.6zM500.3 530.2h5.2v2.58h-5.2zM513.2 530.2h2.6v2.58h-2.6zM518.3 530.2h2.6v2.58h-2.6zM531.2 530.2h2.6v2.58h-2.6zM536.4 530.2h5.2v2.58h-5.2zM544.1 530.2h7.7v2.58h-7.7zM559.6 530.2h2.6v2.58h-2.6zM564.8 530.2h2.6v2.58h-2.6zM572.5 530.2h2.6v2.58h-2.6zM598.3 530.2h2.6v2.58h-2.6zM324.8 532.8h2.6v2.58h-2.6zM332.6 532.8h2.6v2.58h-2.6zM342.9 532.8h5.2v2.58h-5.2zM360.9 532.8h121.3v2.58h-121.3zM487.4 532.8h2.6v2.58h-2.6zM492.5 532.8h2.6v2.58h-2.6zM502.8 532.8h2.6v2.58h-2.6zM510.6 532.8h2.6v2.58h-2.6zM531.2 532.8h2.6v2.58h-2.6zM536.4 532.8h7.7v2.58h-7.7zM554.4 532.8h7.7v2.58h-7.7zM564.8 532.8h2.6v2.58h-2.6zM572.5 532.8h2.6v2.58h-2.6zM613.8 532.8h2.6v2.58h-2.6zM324.8 535.3h2.6v2.58h-2.6zM335.1 535.3h2.6v2.58h-2.6zM342.9 535.3h5.2v2.58h-5.2zM350.6 535.3h7.7v2.58h-7.7zM360.9 535.3h5.2v2.58h-5.2zM368.7 535.3h64.5v2.58h-64.5zM435.8 535.3h43.9v2.58h-43.9zM482.2 535.3h2.6v2.58h-2.6zM489.9 535.3h2.6v2.58h-2.6zM508.0 535.3h2.6v2.58h-2.6zM533.8 535.3h5.2v2.58h-5.2zM544.1 535.3h2.6v2.58h-2.6zM549.3 535.3h18.1v2.58h-18.1zM624.1 535.3h2.6v2.58h-2.6zM327.4 537.9h5.2v2.58h-5.2zM340.3 537.9h2.6v2.58h-2.6zM350.6 537.9h2.6v2.58h-2.6zM355.8 537.9h2.6v2.58h-2.6zM366.1 537.9h33.5v2.58h-33.5zM402.2 537.9h56.8v2.58h-56.8zM461.6 537.9h7.7v2.58h-7.7zM474.5 537.9h2.6v2.58h-2.6zM484.8 537.9h5.2v2.58h-5.2zM505.4 537.9h2.6v2.58h-2.6zM533.8 537.9h2.6v2.58h-2.6zM541.5 537.9h2.6v2.58h-2.6zM562.2 537.9h2.6v2.58h-2.6zM598.3 537.9h2.6v2.58h-2.6zM311.9 540.5h2.6v2.58h-2.6zM345.5 540.5h20.6v2.58h-20.6zM368.7 540.5h85.1v2.58h-85.1zM459.0 540.5h5.2v2.58h-5.2zM466.7 540.5h2.6v2.58h-2.6zM471.9 540.5h2.6v2.58h-2.6zM479.6 540.5h2.6v2.58h-2.6zM484.8 540.5h2.6v2.58h-2.6zM495.1 540.5h2.6v2.58h-2.6zM518.3 540.5h2.6v2.58h-2.6zM526.1 540.5h2.6v2.58h-2.6zM531.2 540.5h2.6v2.58h-2.6zM541.5 540.5h2.6v2.58h-2.6zM559.6 540.5h2.6v2.58h-2.6zM644.7 540.5h2.6v2.58h-2.6zM342.9 543.1h10.3v2.58h-10.3zM355.8 543.1h5.2v2.58h-5.2zM366.1 543.1h2.6v2.58h-2.6zM371.3 543.1h5.2v2.58h-5.2zM379.0 543.1h36.1v2.58h-36.1zM417.7 543.1h28.4v2.58h-28.4zM453.8 543.1h2.6v2.58h-2.6zM479.6 543.1h2.6v2.58h-2.6zM484.8 543.1h2.6v2.58h-2.6zM508.0 543.1h2.6v2.58h-2.6zM531.2 543.1h2.6v2.58h-2.6zM541.5 543.1h7.7v2.58h-7.7zM557.0 543.1h2.6v2.58h-2.6zM562.2 543.1h2.6v2.58h-2.6zM588.0 543.1h2.6v2.58h-2.6zM621.5 543.1h2.6v2.58h-2.6zM330.0 545.7h2.6v2.58h-2.6zM337.7 545.7h7.7v2.58h-7.7zM348.0 545.7h7.7v2.58h-7.7zM368.7 545.7h2.6v2.58h-2.6zM373.8 545.7h61.9v2.58h-61.9zM446.1 545.7h5.2v2.58h-5.2zM459.0 545.7h2.6v2.58h-2.6zM469.3 545.7h5.2v2.58h-5.2zM523.5 545.7h2.6v2.58h-2.6zM528.6 545.7h2.6v2.58h-2.6zM533.8 545.7h5.2v2.58h-5.2zM544.1 545.7h2.6v2.58h-2.6zM549.3 545.7h5.2v2.58h-5.2zM559.6 545.7h2.6v2.58h-2.6zM569.9 545.7h2.6v2.58h-2.6zM582.8 545.7h2.6v2.58h-2.6zM600.9 545.7h2.6v2.58h-2.6zM332.6 548.2h2.6v2.58h-2.6zM337.7 548.2h2.6v2.58h-2.6zM342.9 548.2h5.2v2.58h-5.2zM350.6 548.2h5.2v2.58h-5.2zM358.4 548.2h2.6v2.58h-2.6zM363.5 548.2h2.6v2.58h-2.6zM368.7 548.2h2.6v2.58h-2.6zM373.8 548.2h5.2v2.58h-5.2zM381.6 548.2h5.2v2.58h-5.2zM389.3 548.2h33.5v2.58h-33.5zM428.0 548.2h2.6v2.58h-2.6zM438.3 548.2h5.2v2.58h-5.2zM446.1 548.2h2.6v2.58h-2.6zM464.1 548.2h2.6v2.58h-2.6zM539.0 548.2h2.6v2.58h-2.6zM554.4 548.2h5.2v2.58h-5.2zM600.9 548.2h5.2v2.58h-5.2zM306.8 550.8h2.6v2.58h-2.6zM311.9 550.8h2.6v2.58h-2.6zM327.4 550.8h2.6v2.58h-2.6zM348.0 550.8h2.6v2.58h-2.6zM355.8 550.8h2.6v2.58h-2.6zM366.1 550.8h2.6v2.58h-2.6zM371.3 550.8h2.6v2.58h-2.6zM384.2 550.8h10.3v2.58h-10.3zM397.1 550.8h2.6v2.58h-2.6zM404.8 550.8h5.2v2.58h-5.2zM412.5 550.8h10.3v2.58h-10.3zM425.4 550.8h5.2v2.58h-5.2zM433.2 550.8h7.7v2.58h-7.7zM448.7 550.8h2.6v2.58h-2.6zM482.2 550.8h2.6v2.58h-2.6zM489.9 550.8h2.6v2.58h-2.6zM539.0 550.8h2.6v2.58h-2.6zM582.8 550.8h2.6v2.58h-2.6zM608.6 550.8h2.6v2.58h-2.6zM631.8 550.8h2.6v2.58h-2.6zM335.1 553.4h5.2v2.58h-5.2zM345.5 553.4h5.2v2.58h-5.2zM355.8 553.4h5.2v2.58h-5.2zM371.3 553.4h2.6v2.58h-2.6zM376.4 553.4h2.6v2.58h-2.6zM386.7 553.4h2.6v2.58h-2.6zM399.6 553.4h7.7v2.58h-7.7zM415.1 553.4h2.6v2.58h-2.6zM420.3 553.4h7.7v2.58h-7.7zM430.6 553.4h5.2v2.58h-5.2zM440.9 553.4h2.6v2.58h-2.6zM453.8 553.4h2.6v2.58h-2.6zM497.7 553.4h2.6v2.58h-2.6zM551.9 553.4h2.6v2.58h-2.6zM355.8 556.0h2.6v2.58h-2.6zM360.9 556.0h5.2v2.58h-5.2zM381.6 556.0h2.6v2.58h-2.6zM386.7 556.0h5.2v2.58h-5.2zM399.6 556.0h12.9v2.58h-12.9zM417.7 556.0h2.6v2.58h-2.6zM425.4 556.0h2.6v2.58h-2.6zM443.5 556.0h2.6v2.58h-2.6zM469.3 556.0h2.6v2.58h-2.6zM533.8 556.0h2.6v2.58h-2.6zM539.0 556.0h5.2v2.58h-5.2zM546.7 556.0h2.6v2.58h-2.6zM585.4 556.0h2.6v2.58h-2.6zM624.1 556.0h2.6v2.58h-2.6zM330.0 558.6h2.6v2.58h-2.6zM360.9 558.6h2.6v2.58h-2.6zM371.3 558.6h2.6v2.58h-2.6zM379.0 558.6h2.6v2.58h-2.6zM394.5 558.6h2.6v2.58h-2.6zM407.4 558.6h7.7v2.58h-7.7zM430.6 558.6h2.6v2.58h-2.6zM435.8 558.6h5.2v2.58h-5.2zM448.7 558.6h2.6v2.58h-2.6zM487.4 558.6h2.6v2.58h-2.6zM505.4 558.6h2.6v2.58h-2.6zM533.8 558.6h2.6v2.58h-2.6zM319.7 561.1h2.6v2.58h-2.6zM337.7 561.1h2.6v2.58h-2.6zM342.9 561.1h2.6v2.58h-2.6zM350.6 561.1h2.6v2.58h-2.6zM363.5 561.1h5.2v2.58h-5.2zM373.8 561.1h2.6v2.58h-2.6zM402.2 561.1h2.6v2.58h-2.6zM417.7 561.1h2.6v2.58h-2.6zM428.0 561.1h5.2v2.58h-5.2zM453.8 561.1h2.6v2.58h-2.6zM536.4 561.1h2.6v2.58h-2.6zM546.7 561.1h2.6v2.58h-2.6zM557.0 561.1h2.6v2.58h-2.6zM569.9 561.1h2.6v2.58h-2.6zM618.9 561.1h2.6v2.58h-2.6zM306.8 563.7h5.2v2.58h-5.2zM327.4 563.7h2.6v2.58h-2.6zM368.7 563.7h2.6v2.58h-2.6zM384.2 563.7h2.6v2.58h-2.6zM404.8 563.7h7.7v2.58h-7.7zM417.7 563.7h2.6v2.58h-2.6zM422.9 563.7h2.6v2.58h-2.6zM492.5 563.7h2.6v2.58h-2.6zM322.2 566.3h2.6v2.58h-2.6zM366.1 566.3h2.6v2.58h-2.6zM373.8 566.3h2.6v2.58h-2.6zM399.6 566.3h2.6v2.58h-2.6zM415.1 566.3h2.6v2.58h-2.6zM456.4 566.3h2.6v2.58h-2.6zM562.2 566.3h2.6v2.58h-2.6zM330.0 568.9h2.6v2.58h-2.6zM350.6 568.9h2.6v2.58h-2.6zM363.5 568.9h2.6v2.58h-2.6zM371.3 568.9h2.6v2.58h-2.6zM379.0 568.9h2.6v2.58h-2.6zM394.5 568.9h2.6v2.58h-2.6zM404.8 568.9h2.6v2.58h-2.6zM464.1 568.9h2.6v2.58h-2.6zM536.4 568.9h2.6v2.58h-2.6zM598.3 568.9h2.6v2.58h-2.6zM366.1 571.5h2.6v2.58h-2.6zM381.6 571.5h2.6v2.58h-2.6zM425.4 571.5h2.6v2.58h-2.6zM443.5 571.5h2.6v2.58h-2.6zM497.7 571.5h2.6v2.58h-2.6zM544.1 571.5h2.6v2.58h-2.6zM484.8 574.0h2.6v2.58h-2.6zM508.0 574.0h2.6v2.58h-2.6zM533.8 574.0h2.6v2.58h-2.6zM549.3 574.0h2.6v2.58h-2.6zM559.6 574.0h2.6v2.58h-2.6zM564.8 574.0h2.6v2.58h-2.6zM317.1 576.6h2.6v2.58h-2.6zM384.2 576.6h2.6v2.58h-2.6zM453.8 576.6h2.6v2.58h-2.6zM484.8 576.6h2.6v2.58h-2.6zM559.6 576.6h2.6v2.58h-2.6zM575.1 576.6h2.6v2.58h-2.6zM603.5 576.6h2.6v2.58h-2.6zM384.2 579.2h2.6v2.58h-2.6zM443.5 579.2h2.6v2.58h-2.6zM518.3 579.2h2.6v2.58h-2.6zM531.2 579.2h2.6v2.58h-2.6zM593.1 579.2h2.6v2.58h-2.6zM386.7 581.8h2.6v2.58h-2.6zM531.2 581.8h2.6v2.58h-2.6zM572.5 581.8h2.6v2.58h-2.6zM595.7 581.8h2.6v2.58h-2.6zM446.1 584.4h2.6v2.58h-2.6zM469.3 584.4h2.6v2.58h-2.6zM523.5 584.4h2.6v2.58h-2.6zM539.0 584.4h2.6v2.58h-2.6zM569.9 584.4h2.6v2.58h-2.6zM598.3 584.4h2.6v2.58h-2.6zM539.0 586.9h2.6v2.58h-2.6zM340.3 589.5h2.6v2.58h-2.6zM554.4 589.5h2.6v2.58h-2.6zM497.7 592.1h2.6v2.58h-2.6zM546.7 594.7h2.6v2.58h-2.6zM608.6 597.3h2.6v2.58h-2.6zM425.4 602.4h2.6v2.58h-2.6zM469.3 602.4h2.6v2.58h-2.6zM557.0 602.4h2.6v2.58h-2.6zM216.5 605.0h2.6v2.58h-2.6zM415.1 605.0h2.6v2.58h-2.6zM342.9 610.2h2.6v2.58h-2.6zM417.7 612.7h2.6v2.58h-2.6zM572.5 615.3h2.6v2.58h-2.6zM585.4 630.8h2.6v2.58h-2.6zM1459.9 187.3h2.6v2.58h-2.6zM1372.2 197.6h2.6v2.58h-2.6zM1403.2 197.6h2.6v2.58h-2.6zM1410.9 197.6h2.6v2.58h-2.6zM1300.0 202.8h2.6v2.58h-2.6zM1472.8 202.8h2.6v2.58h-2.6zM1488.3 205.4h2.6v2.58h-2.6zM1439.3 207.9h2.6v2.58h-2.6zM1459.9 220.8h2.6v2.58h-2.6zM1421.2 223.4h2.6v2.58h-2.6zM1537.3 223.4h2.6v2.58h-2.6zM1436.7 231.2h2.6v2.58h-2.6zM1472.8 231.2h2.6v2.58h-2.6zM1478.0 231.2h2.6v2.58h-2.6zM1524.4 231.2h2.6v2.58h-2.6zM1380.0 233.7h2.6v2.58h-2.6zM1462.5 233.7h2.6v2.58h-2.6zM1398.0 238.9h2.6v2.58h-2.6zM1447.0 238.9h2.6v2.58h-2.6zM1465.1 238.9h2.6v2.58h-2.6zM1382.5 246.6h2.6v2.58h-2.6zM1392.9 246.6h2.6v2.58h-2.6zM1439.3 251.8h5.2v2.58h-5.2zM1501.2 251.8h2.6v2.58h-2.6zM1514.1 251.8h2.6v2.58h-2.6zM1372.2 254.4h2.6v2.58h-2.6zM1532.2 254.4h2.6v2.58h-2.6zM1336.1 257.0h2.6v2.58h-2.6zM1444.5 257.0h2.6v2.58h-2.6zM1521.9 257.0h2.6v2.58h-2.6zM1462.5 259.5h2.6v2.58h-2.6zM1542.5 259.5h2.6v2.58h-2.6zM1372.2 262.1h2.6v2.58h-2.6zM1387.7 262.1h2.6v2.58h-2.6zM1421.2 262.1h2.6v2.58h-2.6zM1465.1 262.1h2.6v2.58h-2.6zM1359.3 267.3h2.6v2.58h-2.6zM1390.3 267.3h2.6v2.58h-2.6zM1400.6 267.3h2.6v2.58h-2.6zM1452.2 267.3h2.6v2.58h-2.6zM1475.4 267.3h2.6v2.58h-2.6zM1519.3 267.3h2.6v2.58h-2.6zM1380.0 269.9h2.6v2.58h-2.6zM1498.6 272.4h2.6v2.58h-2.6zM1372.2 275.0h2.6v2.58h-2.6zM1418.7 275.0h2.6v2.58h-2.6zM1444.5 275.0h2.6v2.58h-2.6zM1488.3 275.0h2.6v2.58h-2.6zM1369.6 277.6h2.6v2.58h-2.6zM1374.8 277.6h2.6v2.58h-2.6zM1490.9 277.6h2.6v2.58h-2.6zM1524.4 277.6h2.6v2.58h-2.6zM1539.9 277.6h2.6v2.58h-2.6zM1547.7 277.6h2.6v2.58h-2.6zM1369.6 280.2h2.6v2.58h-2.6zM1380.0 280.2h2.6v2.58h-2.6zM1403.2 280.2h2.6v2.58h-2.6zM1478.0 280.2h2.6v2.58h-2.6zM1524.4 280.2h2.6v2.58h-2.6zM1563.1 280.2h2.6v2.58h-2.6zM1578.6 280.2h2.6v2.58h-2.6zM1625.1 280.2h2.6v2.58h-2.6zM1380.0 282.8h2.6v2.58h-2.6zM1426.4 282.8h5.2v2.58h-5.2zM1436.7 282.8h2.6v2.58h-2.6zM1496.1 282.8h2.6v2.58h-2.6zM1519.3 282.8h2.6v2.58h-2.6zM1372.2 285.3h2.6v2.58h-2.6zM1380.0 285.3h2.6v2.58h-2.6zM1441.9 285.3h2.6v2.58h-2.6zM1449.6 285.3h2.6v2.58h-2.6zM1475.4 285.3h2.6v2.58h-2.6zM1488.3 285.3h2.6v2.58h-2.6zM1503.8 285.3h2.6v2.58h-2.6zM1537.3 285.3h5.2v2.58h-5.2zM1545.1 285.3h2.6v2.58h-2.6zM1560.6 285.3h2.6v2.58h-2.6zM1256.1 287.9h2.6v2.58h-2.6zM1374.8 287.9h2.6v2.58h-2.6zM1382.5 287.9h2.6v2.58h-2.6zM1405.8 287.9h2.6v2.58h-2.6zM1421.2 287.9h5.2v2.58h-5.2zM1444.5 287.9h2.6v2.58h-2.6zM1457.4 287.9h2.6v2.58h-2.6zM1349.0 290.5h2.6v2.58h-2.6zM1369.6 290.5h2.6v2.58h-2.6zM1380.0 290.5h2.6v2.58h-2.6zM1398.0 290.5h2.6v2.58h-2.6zM1416.1 290.5h2.6v2.58h-2.6zM1431.6 290.5h2.6v2.58h-2.6zM1462.5 290.5h2.6v2.58h-2.6zM1472.8 290.5h2.6v2.58h-2.6zM1506.4 290.5h5.2v2.58h-5.2zM1570.9 290.5h2.6v2.58h-2.6zM1356.7 293.1h2.6v2.58h-2.6zM1382.5 293.1h2.6v2.58h-2.6zM1398.0 293.1h2.6v2.58h-2.6zM1416.1 293.1h2.6v2.58h-2.6zM1421.2 293.1h5.2v2.58h-5.2zM1452.2 293.1h2.6v2.58h-2.6zM1457.4 293.1h2.6v2.58h-2.6zM1467.7 293.1h2.6v2.58h-2.6zM1485.7 293.1h2.6v2.58h-2.6zM1521.9 293.1h2.6v2.58h-2.6zM1619.9 293.1h2.6v2.58h-2.6zM1361.9 295.7h2.6v2.58h-2.6zM1408.3 295.7h5.2v2.58h-5.2zM1416.1 295.7h2.6v2.58h-2.6zM1421.2 295.7h2.6v2.58h-2.6zM1434.1 295.7h5.2v2.58h-5.2zM1441.9 295.7h7.7v2.58h-7.7zM1454.8 295.7h2.6v2.58h-2.6zM1475.4 295.7h2.6v2.58h-2.6zM1490.9 295.7h2.6v2.58h-2.6zM1501.2 295.7h7.7v2.58h-7.7zM1514.1 295.7h2.6v2.58h-2.6zM1359.3 298.2h5.2v2.58h-5.2zM1374.8 298.2h2.6v2.58h-2.6zM1403.2 298.2h2.6v2.58h-2.6zM1410.9 298.2h2.6v2.58h-2.6zM1423.8 298.2h2.6v2.58h-2.6zM1447.0 298.2h2.6v2.58h-2.6zM1459.9 298.2h2.6v2.58h-2.6zM1467.7 298.2h2.6v2.58h-2.6zM1475.4 298.2h2.6v2.58h-2.6zM1493.5 298.2h2.6v2.58h-2.6zM1511.5 298.2h2.6v2.58h-2.6zM1547.7 298.2h2.6v2.58h-2.6zM1601.8 298.2h2.6v2.58h-2.6zM1292.2 300.8h2.6v2.58h-2.6zM1343.8 300.8h2.6v2.58h-2.6zM1359.3 300.8h2.6v2.58h-2.6zM1390.3 300.8h2.6v2.58h-2.6zM1410.9 300.8h5.2v2.58h-5.2zM1418.7 300.8h2.6v2.58h-2.6zM1426.4 300.8h2.6v2.58h-2.6zM1431.6 300.8h2.6v2.58h-2.6zM1436.7 300.8h2.6v2.58h-2.6zM1447.0 300.8h2.6v2.58h-2.6zM1452.2 300.8h5.2v2.58h-5.2zM1459.9 300.8h2.6v2.58h-2.6zM1465.1 300.8h5.2v2.58h-5.2zM1475.4 300.8h2.6v2.58h-2.6zM1501.2 300.8h2.6v2.58h-2.6zM1506.4 300.8h5.2v2.58h-5.2zM1516.7 300.8h2.6v2.58h-2.6zM1527.0 300.8h2.6v2.58h-2.6zM1555.4 300.8h2.6v2.58h-2.6zM1565.7 300.8h2.6v2.58h-2.6zM1581.2 300.8h2.6v2.58h-2.6zM1614.7 300.8h2.6v2.58h-2.6zM1336.1 303.4h2.6v2.58h-2.6zM1361.9 303.4h2.6v2.58h-2.6zM1374.8 303.4h2.6v2.58h-2.6zM1380.0 303.4h2.6v2.58h-2.6zM1408.3 303.4h5.2v2.58h-5.2zM1429.0 303.4h2.6v2.58h-2.6zM1441.9 303.4h7.7v2.58h-7.7zM1459.9 303.4h5.2v2.58h-5.2zM1472.8 303.4h2.6v2.58h-2.6zM1480.6 303.4h2.6v2.58h-2.6zM1493.5 303.4h5.2v2.58h-5.2zM1503.8 303.4h5.2v2.58h-5.2zM1524.4 303.4h2.6v2.58h-2.6zM1529.6 303.4h2.6v2.58h-2.6zM1356.7 306.0h2.6v2.58h-2.6zM1385.1 306.0h10.3v2.58h-10.3zM1408.3 306.0h2.6v2.58h-2.6zM1413.5 306.0h2.6v2.58h-2.6zM1423.8 306.0h2.6v2.58h-2.6zM1429.0 306.0h2.6v2.58h-2.6zM1436.7 306.0h2.6v2.58h-2.6zM1447.0 306.0h5.2v2.58h-5.2zM1454.8 306.0h7.7v2.58h-7.7zM1478.0 306.0h5.2v2.58h-5.2zM1485.7 306.0h2.6v2.58h-2.6zM1496.1 306.0h5.2v2.58h-5.2zM1516.7 306.0h2.6v2.58h-2.6zM1532.2 306.0h2.6v2.58h-2.6zM1545.1 306.0h2.6v2.58h-2.6zM1310.3 308.6h2.6v2.58h-2.6zM1346.4 308.6h2.6v2.58h-2.6zM1359.3 308.6h2.6v2.58h-2.6zM1369.6 308.6h2.6v2.58h-2.6zM1385.1 308.6h5.2v2.58h-5.2zM1405.8 308.6h7.7v2.58h-7.7zM1418.7 308.6h7.7v2.58h-7.7zM1429.0 308.6h2.6v2.58h-2.6zM1436.7 308.6h2.6v2.58h-2.6zM1441.9 308.6h2.6v2.58h-2.6zM1452.2 308.6h5.2v2.58h-5.2zM1459.9 308.6h2.6v2.58h-2.6zM1465.1 308.6h7.7v2.58h-7.7zM1475.4 308.6h2.6v2.58h-2.6zM1485.7 308.6h7.7v2.58h-7.7zM1498.6 308.6h2.6v2.58h-2.6zM1509.0 308.6h2.6v2.58h-2.6zM1550.2 308.6h2.6v2.58h-2.6zM1555.4 308.6h2.6v2.58h-2.6zM1596.7 308.6h2.6v2.58h-2.6zM1625.1 308.6h2.6v2.58h-2.6zM1305.1 311.1h2.6v2.58h-2.6zM1325.8 311.1h2.6v2.58h-2.6zM1336.1 311.1h2.6v2.58h-2.6zM1359.3 311.1h2.6v2.58h-2.6zM1374.8 311.1h5.2v2.58h-5.2zM1390.3 311.1h2.6v2.58h-2.6zM1395.4 311.1h2.6v2.58h-2.6zM1403.2 311.1h2.6v2.58h-2.6zM1418.7 311.1h2.6v2.58h-2.6zM1426.4 311.1h2.6v2.58h-2.6zM1434.1 311.1h23.2v2.58h-23.2zM1459.9 311.1h7.7v2.58h-7.7zM1470.3 311.1h2.6v2.58h-2.6zM1480.6 311.1h5.2v2.58h-5.2zM1493.5 311.1h7.7v2.58h-7.7zM1506.4 311.1h2.6v2.58h-2.6zM1524.4 311.1h5.2v2.58h-5.2zM1534.8 311.1h2.6v2.58h-2.6zM1328.4 313.7h2.6v2.58h-2.6zM1356.7 313.7h2.6v2.58h-2.6zM1367.1 313.7h2.6v2.58h-2.6zM1372.2 313.7h2.6v2.58h-2.6zM1377.4 313.7h5.2v2.58h-5.2zM1387.7 313.7h2.6v2.58h-2.6zM1392.9 313.7h2.6v2.58h-2.6zM1403.2 313.7h2.6v2.58h-2.6zM1413.5 313.7h5.2v2.58h-5.2zM1436.7 313.7h5.2v2.58h-5.2zM1447.0 313.7h7.7v2.58h-7.7zM1459.9 313.7h5.2v2.58h-5.2zM1470.3 313.7h2.6v2.58h-2.6zM1483.2 313.7h2.6v2.58h-2.6zM1511.5 313.7h5.2v2.58h-5.2zM1519.3 313.7h2.6v2.58h-2.6zM1547.7 313.7h2.6v2.58h-2.6zM1558.0 313.7h2.6v2.58h-2.6zM1568.3 313.7h2.6v2.58h-2.6zM1196.8 316.3h2.6v2.58h-2.6zM1315.5 316.3h2.6v2.58h-2.6zM1323.2 316.3h2.6v2.58h-2.6zM1351.6 316.3h2.6v2.58h-2.6zM1356.7 316.3h2.6v2.58h-2.6zM1364.5 316.3h2.6v2.58h-2.6zM1377.4 316.3h5.2v2.58h-5.2zM1390.3 316.3h5.2v2.58h-5.2zM1398.0 316.3h2.6v2.58h-2.6zM1403.2 316.3h5.2v2.58h-5.2zM1413.5 316.3h2.6v2.58h-2.6zM1423.8 316.3h7.7v2.58h-7.7zM1434.1 316.3h12.9v2.58h-12.9zM1449.6 316.3h7.7v2.58h-7.7zM1459.9 316.3h7.7v2.58h-7.7zM1470.3 316.3h5.2v2.58h-5.2zM1480.6 316.3h5.2v2.58h-5.2zM1493.5 316.3h2.6v2.58h-2.6zM1503.8 316.3h2.6v2.58h-2.6zM1534.8 316.3h2.6v2.58h-2.6zM1542.5 316.3h2.6v2.58h-2.6zM1614.7 316.3h2.6v2.58h-2.6zM1305.1 318.9h2.6v2.58h-2.6zM1338.7 318.9h2.6v2.58h-2.6zM1351.6 318.9h2.6v2.58h-2.6zM1359.3 318.9h7.7v2.58h-7.7zM1372.2 318.9h2.6v2.58h-2.6zM1385.1 318.9h2.6v2.58h-2.6zM1390.3 318.9h5.2v2.58h-5.2zM1400.6 318.9h2.6v2.58h-2.6zM1410.9 318.9h12.9v2.58h-12.9zM1426.4 318.9h12.9v2.58h-12.9zM1441.9 318.9h2.6v2.58h-2.6zM1449.6 318.9h7.7v2.58h-7.7zM1459.9 318.9h2.6v2.58h-2.6zM1465.1 318.9h7.7v2.58h-7.7zM1480.6 318.9h5.2v2.58h-5.2zM1488.3 318.9h2.6v2.58h-2.6zM1514.1 318.9h2.6v2.58h-2.6zM1524.4 318.9h5.2v2.58h-5.2zM1537.3 318.9h2.6v2.58h-2.6zM1563.1 318.9h5.2v2.58h-5.2zM1318.0 321.5h2.6v2.58h-2.6zM1325.8 321.5h2.6v2.58h-2.6zM1338.7 321.5h2.6v2.58h-2.6zM1343.8 321.5h2.6v2.58h-2.6zM1351.6 321.5h5.2v2.58h-5.2zM1372.2 321.5h2.6v2.58h-2.6zM1382.5 321.5h2.6v2.58h-2.6zM1387.7 321.5h5.2v2.58h-5.2zM1395.4 321.5h5.2v2.58h-5.2zM1405.8 321.5h2.6v2.58h-2.6zM1410.9 321.5h2.6v2.58h-2.6zM1418.7 321.5h5.2v2.58h-5.2zM1429.0 321.5h2.6v2.58h-2.6zM1434.1 321.5h10.3v2.58h-10.3zM1447.0 321.5h23.2v2.58h-23.2zM1478.0 321.5h2.6v2.58h-2.6zM1485.7 321.5h7.7v2.58h-7.7zM1498.6 321.5h2.6v2.58h-2.6zM1516.7 321.5h2.6v2.58h-2.6zM1532.2 321.5h7.7v2.58h-7.7zM1563.1 321.5h2.6v2.58h-2.6zM1596.7 321.5h2.6v2.58h-2.6zM1302.6 324.0h2.6v2.58h-2.6zM1325.8 324.0h2.6v2.58h-2.6zM1354.2 324.0h7.7v2.58h-7.7zM1369.6 324.0h2.6v2.58h-2.6zM1374.8 324.0h5.2v2.58h-5.2zM1382.5 324.0h2.6v2.58h-2.6zM1390.3 324.0h7.7v2.58h-7.7zM1405.8 324.0h5.2v2.58h-5.2zM1421.2 324.0h12.9v2.58h-12.9zM1444.5 324.0h7.7v2.58h-7.7zM1457.4 324.0h10.3v2.58h-10.3zM1472.8 324.0h2.6v2.58h-2.6zM1478.0 324.0h7.7v2.58h-7.7zM1488.3 324.0h7.7v2.58h-7.7zM1498.6 324.0h2.6v2.58h-2.6zM1514.1 324.0h2.6v2.58h-2.6zM1529.6 324.0h2.6v2.58h-2.6zM1534.8 324.0h2.6v2.58h-2.6zM1542.5 324.0h2.6v2.58h-2.6zM1550.2 324.0h2.6v2.58h-2.6zM1568.3 324.0h2.6v2.58h-2.6zM1333.5 326.6h2.6v2.58h-2.6zM1338.7 326.6h2.6v2.58h-2.6zM1349.0 326.6h5.2v2.58h-5.2zM1356.7 326.6h7.7v2.58h-7.7zM1392.9 326.6h2.6v2.58h-2.6zM1408.3 326.6h2.6v2.58h-2.6zM1421.2 326.6h10.3v2.58h-10.3zM1439.3 326.6h5.2v2.58h-5.2zM1449.6 326.6h20.6v2.58h-20.6zM1472.8 326.6h10.3v2.58h-10.3zM1485.7 326.6h2.6v2.58h-2.6zM1490.9 326.6h2.6v2.58h-2.6zM1503.8 326.6h2.6v2.58h-2.6zM1521.9 326.6h2.6v2.58h-2.6zM1527.0 326.6h2.6v2.58h-2.6zM1545.1 326.6h2.6v2.58h-2.6zM1558.0 326.6h2.6v2.58h-2.6zM1581.2 326.6h2.6v2.58h-2.6zM1300.0 329.2h2.6v2.58h-2.6zM1310.3 329.2h2.6v2.58h-2.6zM1346.4 329.2h2.6v2.58h-2.6zM1367.1 329.2h2.6v2.58h-2.6zM1374.8 329.2h5.2v2.58h-5.2zM1382.5 329.2h2.6v2.58h-2.6zM1390.3 329.2h2.6v2.58h-2.6zM1403.2 329.2h2.6v2.58h-2.6zM1408.3 329.2h15.5v2.58h-15.5zM1426.4 329.2h7.7v2.58h-7.7zM1439.3 329.2h28.4v2.58h-28.4zM1475.4 329.2h5.2v2.58h-5.2zM1483.2 329.2h7.7v2.58h-7.7zM1496.1 329.2h10.3v2.58h-10.3zM1511.5 329.2h7.7v2.58h-7.7zM1527.0 329.2h2.6v2.58h-2.6zM1547.7 329.2h2.6v2.58h-2.6zM1552.8 329.2h2.6v2.58h-2.6zM1338.7 331.8h5.2v2.58h-5.2zM1349.0 331.8h2.6v2.58h-2.6zM1354.2 331.8h5.2v2.58h-5.2zM1367.1 331.8h5.2v2.58h-5.2zM1380.0 331.8h2.6v2.58h-2.6zM1385.1 331.8h2.6v2.58h-2.6zM1390.3 331.8h2.6v2.58h-2.6zM1398.0 331.8h2.6v2.58h-2.6zM1403.2 331.8h2.6v2.58h-2.6zM1408.3 331.8h2.6v2.58h-2.6zM1418.7 331.8h2.6v2.58h-2.6zM1423.8 331.8h20.6v2.58h-20.6zM1447.0 331.8h2.6v2.58h-2.6zM1452.2 331.8h5.2v2.58h-5.2zM1459.9 331.8h2.6v2.58h-2.6zM1467.7 331.8h2.6v2.58h-2.6zM1475.4 331.8h5.2v2.58h-5.2zM1488.3 331.8h5.2v2.58h-5.2zM1511.5 331.8h5.2v2.58h-5.2zM1519.3 331.8h2.6v2.58h-2.6zM1529.6 331.8h5.2v2.58h-5.2zM1297.4 334.4h2.6v2.58h-2.6zM1310.3 334.4h2.6v2.58h-2.6zM1318.0 334.4h2.6v2.58h-2.6zM1325.8 334.4h2.6v2.58h-2.6zM1333.5 334.4h2.6v2.58h-2.6zM1338.7 334.4h2.6v2.58h-2.6zM1361.9 334.4h5.2v2.58h-5.2zM1377.4 334.4h10.3v2.58h-10.3zM1390.3 334.4h2.6v2.58h-2.6zM1395.4 334.4h5.2v2.58h-5.2zM1403.2 334.4h2.6v2.58h-2.6zM1421.2 334.4h2.6v2.58h-2.6zM1431.6 334.4h7.7v2.58h-7.7zM1444.5 334.4h5.2v2.58h-5.2zM1452.2 334.4h2.6v2.58h-2.6zM1465.1 334.4h2.6v2.58h-2.6zM1470.3 334.4h2.6v2.58h-2.6zM1478.0 334.4h2.6v2.58h-2.6zM1485.7 334.4h5.2v2.58h-5.2zM1501.2 334.4h5.2v2.58h-5.2zM1511.5 334.4h2.6v2.58h-2.6zM1545.1 334.4h2.6v2.58h-2.6zM1558.0 334.4h2.6v2.58h-2.6zM1563.1 334.4h2.6v2.58h-2.6zM1573.5 334.4h2.6v2.58h-2.6zM1338.7 336.9h2.6v2.58h-2.6zM1343.8 336.9h2.6v2.58h-2.6zM1349.0 336.9h5.2v2.58h-5.2zM1361.9 336.9h2.6v2.58h-2.6zM1369.6 336.9h2.6v2.58h-2.6zM1374.8 336.9h2.6v2.58h-2.6zM1382.5 336.9h5.2v2.58h-5.2zM1398.0 336.9h2.6v2.58h-2.6zM1403.2 336.9h7.7v2.58h-7.7zM1418.7 336.9h2.6v2.58h-2.6zM1429.0 336.9h5.2v2.58h-5.2zM1444.5 336.9h15.5v2.58h-15.5zM1465.1 336.9h5.2v2.58h-5.2zM1472.8 336.9h5.2v2.58h-5.2zM1483.2 336.9h2.6v2.58h-2.6zM1490.9 336.9h10.3v2.58h-10.3zM1503.8 336.9h5.2v2.58h-5.2zM1511.5 336.9h2.6v2.58h-2.6zM1529.6 336.9h2.6v2.58h-2.6zM1565.7 336.9h2.6v2.58h-2.6zM1617.3 336.9h2.6v2.58h-2.6zM1103.9 339.5h2.6v2.58h-2.6zM1163.2 339.5h2.6v2.58h-2.6zM1349.0 339.5h7.7v2.58h-7.7zM1369.6 339.5h2.6v2.58h-2.6zM1377.4 339.5h2.6v2.58h-2.6zM1382.5 339.5h15.5v2.58h-15.5zM1405.8 339.5h10.3v2.58h-10.3zM1418.7 339.5h12.9v2.58h-12.9zM1434.1 339.5h12.9v2.58h-12.9zM1449.6 339.5h5.2v2.58h-5.2zM1457.4 339.5h5.2v2.58h-5.2zM1465.1 339.5h5.2v2.58h-5.2zM1472.8 339.5h7.7v2.58h-7.7zM1514.1 339.5h2.6v2.58h-2.6zM1581.2 339.5h2.6v2.58h-2.6zM1271.6 342.1h2.6v2.58h-2.6zM1310.3 342.1h2.6v2.58h-2.6zM1318.0 342.1h2.6v2.58h-2.6zM1325.8 342.1h5.2v2.58h-5.2zM1343.8 342.1h2.6v2.58h-2.6zM1361.9 342.1h5.2v2.58h-5.2zM1374.8 342.1h10.3v2.58h-10.3zM1395.4 342.1h2.6v2.58h-2.6zM1400.6 342.1h2.6v2.58h-2.6zM1408.3 342.1h2.6v2.58h-2.6zM1413.5 342.1h2.6v2.58h-2.6zM1418.7 342.1h2.6v2.58h-2.6zM1423.8 342.1h2.6v2.58h-2.6zM1436.7 342.1h5.2v2.58h-5.2zM1472.8 342.1h5.2v2.58h-5.2zM1485.7 342.1h2.6v2.58h-2.6zM1521.9 342.1h2.6v2.58h-2.6zM1599.3 342.1h2.6v2.58h-2.6zM1607.0 342.1h2.6v2.58h-2.6zM1338.7 344.7h2.6v2.58h-2.6zM1349.0 344.7h2.6v2.58h-2.6zM1364.5 344.7h2.6v2.58h-2.6zM1372.2 344.7h2.6v2.58h-2.6zM1385.1 344.7h2.6v2.58h-2.6zM1392.9 344.7h2.6v2.58h-2.6zM1400.6 344.7h2.6v2.58h-2.6zM1408.3 344.7h2.6v2.58h-2.6zM1413.5 344.7h2.6v2.58h-2.6zM1423.8 344.7h2.6v2.58h-2.6zM1434.1 344.7h7.7v2.58h-7.7zM1449.6 344.7h2.6v2.58h-2.6zM1459.9 344.7h2.6v2.58h-2.6zM1472.8 344.7h2.6v2.58h-2.6zM1478.0 344.7h7.7v2.58h-7.7zM1490.9 344.7h2.6v2.58h-2.6zM1524.4 344.7h5.2v2.58h-5.2zM1330.9 347.3h2.6v2.58h-2.6zM1343.8 347.3h2.6v2.58h-2.6zM1364.5 347.3h2.6v2.58h-2.6zM1372.2 347.3h2.6v2.58h-2.6zM1392.9 347.3h7.7v2.58h-7.7zM1413.5 347.3h5.2v2.58h-5.2zM1439.3 347.3h5.2v2.58h-5.2zM1452.2 347.3h5.2v2.58h-5.2zM1462.5 347.3h5.2v2.58h-5.2zM1470.3 347.3h2.6v2.58h-2.6zM1485.7 347.3h5.2v2.58h-5.2zM1503.8 347.3h2.6v2.58h-2.6zM1516.7 347.3h2.6v2.58h-2.6zM1521.9 347.3h2.6v2.58h-2.6zM1537.3 347.3h2.6v2.58h-2.6zM1325.8 349.8h2.6v2.58h-2.6zM1354.2 349.8h2.6v2.58h-2.6zM1361.9 349.8h2.6v2.58h-2.6zM1367.1 349.8h2.6v2.58h-2.6zM1380.0 349.8h2.6v2.58h-2.6zM1385.1 349.8h2.6v2.58h-2.6zM1390.3 349.8h5.2v2.58h-5.2zM1416.1 349.8h2.6v2.58h-2.6zM1421.2 349.8h2.6v2.58h-2.6zM1431.6 349.8h10.3v2.58h-10.3zM1444.5 349.8h2.6v2.58h-2.6zM1462.5 349.8h2.6v2.58h-2.6zM1519.3 349.8h2.6v2.58h-2.6zM1542.5 349.8h2.6v2.58h-2.6zM1312.9 352.4h2.6v2.58h-2.6zM1320.6 352.4h2.6v2.58h-2.6zM1325.8 352.4h2.6v2.58h-2.6zM1333.5 352.4h2.6v2.58h-2.6zM1356.7 352.4h2.6v2.58h-2.6zM1361.9 352.4h2.6v2.58h-2.6zM1380.0 352.4h2.6v2.58h-2.6zM1395.4 352.4h2.6v2.58h-2.6zM1413.5 352.4h7.7v2.58h-7.7zM1423.8 352.4h2.6v2.58h-2.6zM1429.0 352.4h5.2v2.58h-5.2zM1436.7 352.4h7.7v2.58h-7.7zM1447.0 352.4h2.6v2.58h-2.6zM1454.8 352.4h5.2v2.58h-5.2zM1472.8 352.4h2.6v2.58h-2.6zM1488.3 352.4h2.6v2.58h-2.6zM1498.6 352.4h5.2v2.58h-5.2zM1506.4 352.4h2.6v2.58h-2.6zM1568.3 352.4h5.2v2.58h-5.2zM1607.0 352.4h2.6v2.58h-2.6zM1302.6 355.0h2.6v2.58h-2.6zM1315.5 355.0h2.6v2.58h-2.6zM1333.5 355.0h2.6v2.58h-2.6zM1338.7 355.0h5.2v2.58h-5.2zM1346.4 355.0h2.6v2.58h-2.6zM1354.2 355.0h2.6v2.58h-2.6zM1361.9 355.0h5.2v2.58h-5.2zM1377.4 355.0h2.6v2.58h-2.6zM1385.1 355.0h2.6v2.58h-2.6zM1395.4 355.0h2.6v2.58h-2.6zM1410.9 355.0h12.9v2.58h-12.9zM1426.4 355.0h2.6v2.58h-2.6zM1431.6 355.0h2.6v2.58h-2.6zM1441.9 355.0h2.6v2.58h-2.6zM1452.2 355.0h2.6v2.58h-2.6zM1467.7 355.0h2.6v2.58h-2.6zM1519.3 355.0h2.6v2.58h-2.6zM1297.4 357.6h2.6v2.58h-2.6zM1336.1 357.6h2.6v2.58h-2.6zM1380.0 357.6h2.6v2.58h-2.6zM1390.3 357.6h2.6v2.58h-2.6zM1398.0 357.6h5.2v2.58h-5.2zM1410.9 357.6h2.6v2.58h-2.6zM1423.8 357.6h7.7v2.58h-7.7zM1439.3 357.6h2.6v2.58h-2.6zM1444.5 357.6h5.2v2.58h-5.2zM1452.2 357.6h2.6v2.58h-2.6zM1459.9 357.6h2.6v2.58h-2.6zM1472.8 357.6h2.6v2.58h-2.6zM1493.5 357.6h2.6v2.58h-2.6zM1516.7 357.6h2.6v2.58h-2.6zM1537.3 357.6h2.6v2.58h-2.6zM1294.8 360.2h2.6v2.58h-2.6zM1330.9 360.2h2.6v2.58h-2.6zM1380.0 360.2h2.6v2.58h-2.6zM1387.7 360.2h5.2v2.58h-5.2zM1395.4 360.2h2.6v2.58h-2.6zM1403.2 360.2h2.6v2.58h-2.6zM1416.1 360.2h2.6v2.58h-2.6zM1421.2 360.2h2.6v2.58h-2.6zM1434.1 360.2h2.6v2.58h-2.6zM1454.8 360.2h10.3v2.58h-10.3zM1333.5 362.7h2.6v2.58h-2.6zM1338.7 362.7h5.2v2.58h-5.2zM1349.0 362.7h2.6v2.58h-2.6zM1364.5 362.7h5.2v2.58h-5.2zM1372.2 362.7h10.3v2.58h-10.3zM1395.4 362.7h2.6v2.58h-2.6zM1400.6 362.7h5.2v2.58h-5.2zM1410.9 362.7h5.2v2.58h-5.2zM1418.7 362.7h2.6v2.58h-2.6zM1423.8 362.7h2.6v2.58h-2.6zM1431.6 362.7h2.6v2.58h-2.6zM1465.1 362.7h2.6v2.58h-2.6zM1472.8 362.7h2.6v2.58h-2.6zM1478.0 362.7h5.2v2.58h-5.2zM1284.5 365.3h2.6v2.58h-2.6zM1305.1 365.3h2.6v2.58h-2.6zM1328.4 365.3h2.6v2.58h-2.6zM1343.8 365.3h2.6v2.58h-2.6zM1349.0 365.3h2.6v2.58h-2.6zM1354.2 365.3h2.6v2.58h-2.6zM1380.0 365.3h5.2v2.58h-5.2zM1387.7 365.3h2.6v2.58h-2.6zM1398.0 365.3h7.7v2.58h-7.7zM1410.9 365.3h5.2v2.58h-5.2zM1429.0 365.3h2.6v2.58h-2.6zM1434.1 365.3h2.6v2.58h-2.6zM1439.3 365.3h2.6v2.58h-2.6zM1462.5 365.3h2.6v2.58h-2.6zM1470.3 365.3h2.6v2.58h-2.6zM1498.6 365.3h2.6v2.58h-2.6zM1307.7 367.9h2.6v2.58h-2.6zM1328.4 367.9h2.6v2.58h-2.6zM1338.7 367.9h2.6v2.58h-2.6zM1351.6 367.9h2.6v2.58h-2.6zM1359.3 367.9h5.2v2.58h-5.2zM1377.4 367.9h2.6v2.58h-2.6zM1390.3 367.9h2.6v2.58h-2.6zM1395.4 367.9h7.7v2.58h-7.7zM1408.3 367.9h2.6v2.58h-2.6zM1418.7 367.9h2.6v2.58h-2.6zM1423.8 367.9h2.6v2.58h-2.6zM1431.6 367.9h5.2v2.58h-5.2zM1439.3 367.9h2.6v2.58h-2.6zM1447.0 367.9h5.2v2.58h-5.2zM1454.8 367.9h2.6v2.58h-2.6zM1459.9 367.9h2.6v2.58h-2.6zM1475.4 367.9h2.6v2.58h-2.6zM1338.7 370.5h5.2v2.58h-5.2zM1364.5 370.5h2.6v2.58h-2.6zM1372.2 370.5h2.6v2.58h-2.6zM1392.9 370.5h5.2v2.58h-5.2zM1403.2 370.5h2.6v2.58h-2.6zM1413.5 370.5h2.6v2.58h-2.6zM1421.2 370.5h2.6v2.58h-2.6zM1431.6 370.5h2.6v2.58h-2.6zM1436.7 370.5h2.6v2.58h-2.6zM1441.9 370.5h2.6v2.58h-2.6zM1452.2 370.5h5.2v2.58h-5.2zM1462.5 370.5h2.6v2.58h-2.6zM1488.3 370.5h2.6v2.58h-2.6zM1516.7 370.5h2.6v2.58h-2.6zM1578.6 370.5h2.6v2.58h-2.6zM1338.7 373.1h2.6v2.58h-2.6zM1346.4 373.1h2.6v2.58h-2.6zM1359.3 373.1h5.2v2.58h-5.2zM1377.4 373.1h2.6v2.58h-2.6zM1387.7 373.1h2.6v2.58h-2.6zM1398.0 373.1h2.6v2.58h-2.6zM1408.3 373.1h2.6v2.58h-2.6zM1418.7 373.1h2.6v2.58h-2.6zM1431.6 373.1h5.2v2.58h-5.2zM1439.3 373.1h2.6v2.58h-2.6zM1447.0 373.1h2.6v2.58h-2.6zM1454.8 373.1h2.6v2.58h-2.6zM1465.1 373.1h2.6v2.58h-2.6zM1506.4 373.1h2.6v2.58h-2.6zM1514.1 373.1h2.6v2.58h-2.6zM1297.4 375.6h2.6v2.58h-2.6zM1310.3 375.6h2.6v2.58h-2.6zM1320.6 375.6h2.6v2.58h-2.6zM1349.0 375.6h2.6v2.58h-2.6zM1354.2 375.6h12.9v2.58h-12.9zM1369.6 375.6h2.6v2.58h-2.6zM1382.5 375.6h2.6v2.58h-2.6zM1390.3 375.6h2.6v2.58h-2.6zM1395.4 375.6h2.6v2.58h-2.6zM1405.8 375.6h2.6v2.58h-2.6zM1410.9 375.6h2.6v2.58h-2.6zM1418.7 375.6h2.6v2.58h-2.6zM1423.8 375.6h2.6v2.58h-2.6zM1434.1 375.6h12.9v2.58h-12.9zM1449.6 375.6h2.6v2.58h-2.6zM1462.5 375.6h2.6v2.58h-2.6zM1485.7 375.6h2.6v2.58h-2.6zM1493.5 375.6h2.6v2.58h-2.6zM1310.3 378.2h2.6v2.58h-2.6zM1320.6 378.2h2.6v2.58h-2.6zM1341.3 378.2h2.6v2.58h-2.6zM1361.9 378.2h5.2v2.58h-5.2zM1369.6 378.2h2.6v2.58h-2.6zM1374.8 378.2h2.6v2.58h-2.6zM1387.7 378.2h10.3v2.58h-10.3zM1403.2 378.2h7.7v2.58h-7.7zM1413.5 378.2h2.6v2.58h-2.6zM1421.2 378.2h10.3v2.58h-10.3zM1447.0 378.2h5.2v2.58h-5.2zM1488.3 378.2h2.6v2.58h-2.6zM1276.8 380.8h2.6v2.58h-2.6zM1325.8 380.8h2.6v2.58h-2.6zM1349.0 380.8h2.6v2.58h-2.6zM1367.1 380.8h2.6v2.58h-2.6zM1374.8 380.8h2.6v2.58h-2.6zM1380.0 380.8h5.2v2.58h-5.2zM1387.7 380.8h2.6v2.58h-2.6zM1392.9 380.8h5.2v2.58h-5.2zM1400.6 380.8h2.6v2.58h-2.6zM1405.8 380.8h2.6v2.58h-2.6zM1413.5 380.8h2.6v2.58h-2.6zM1418.7 380.8h2.6v2.58h-2.6zM1434.1 380.8h5.2v2.58h-5.2zM1459.9 380.8h2.6v2.58h-2.6zM1470.3 380.8h2.6v2.58h-2.6zM1475.4 380.8h2.6v2.58h-2.6zM1496.1 380.8h2.6v2.58h-2.6zM1323.2 383.4h2.6v2.58h-2.6zM1382.5 383.4h2.6v2.58h-2.6zM1387.7 383.4h2.6v2.58h-2.6zM1403.2 383.4h2.6v2.58h-2.6zM1410.9 383.4h2.6v2.58h-2.6zM1416.1 383.4h2.6v2.58h-2.6zM1423.8 383.4h2.6v2.58h-2.6zM1429.0 383.4h5.2v2.58h-5.2zM1441.9 383.4h5.2v2.58h-5.2zM1454.8 383.4h2.6v2.58h-2.6zM1467.7 383.4h2.6v2.58h-2.6zM1472.8 383.4h2.6v2.58h-2.6zM1480.6 383.4h2.6v2.58h-2.6zM1307.7 386.0h2.6v2.58h-2.6zM1336.1 386.0h2.6v2.58h-2.6zM1356.7 386.0h2.6v2.58h-2.6zM1367.1 386.0h2.6v2.58h-2.6zM1374.8 386.0h2.6v2.58h-2.6zM1395.4 386.0h10.3v2.58h-10.3zM1410.9 386.0h2.6v2.58h-2.6zM1423.8 386.0h2.6v2.58h-2.6zM1434.1 386.0h2.6v2.58h-2.6zM1441.9 386.0h7.7v2.58h-7.7zM1496.1 386.0h2.6v2.58h-2.6zM1269.0 388.5h2.6v2.58h-2.6zM1300.0 388.5h2.6v2.58h-2.6zM1349.0 388.5h2.6v2.58h-2.6zM1359.3 388.5h5.2v2.58h-5.2zM1377.4 388.5h7.7v2.58h-7.7zM1387.7 388.5h5.2v2.58h-5.2zM1400.6 388.5h2.6v2.58h-2.6zM1405.8 388.5h2.6v2.58h-2.6zM1416.1 388.5h2.6v2.58h-2.6zM1429.0 388.5h2.6v2.58h-2.6zM1434.1 388.5h2.6v2.58h-2.6zM1439.3 388.5h2.6v2.58h-2.6zM1465.1 388.5h2.6v2.58h-2.6zM1568.3 388.5h2.6v2.58h-2.6zM1287.1 391.1h2.6v2.58h-2.6zM1320.6 391.1h2.6v2.58h-2.6zM1343.8 391.1h2.6v2.58h-2.6zM1354.2 391.1h2.6v2.58h-2.6zM1364.5 391.1h2.6v2.58h-2.6zM1372.2 391.1h2.6v2.58h-2.6zM1382.5 391.1h2.6v2.58h-2.6zM1395.4 391.1h2.6v2.58h-2.6zM1408.3 391.1h2.6v2.58h-2.6zM1421.2 391.1h2.6v2.58h-2.6zM1434.1 391.1h2.6v2.58h-2.6zM1490.9 391.1h2.6v2.58h-2.6zM1243.2 393.7h2.6v2.58h-2.6zM1325.8 393.7h5.2v2.58h-5.2zM1338.7 393.7h2.6v2.58h-2.6zM1351.6 393.7h2.6v2.58h-2.6zM1356.7 393.7h5.2v2.58h-5.2zM1377.4 393.7h2.6v2.58h-2.6zM1387.7 393.7h2.6v2.58h-2.6zM1392.9 393.7h2.6v2.58h-2.6zM1403.2 393.7h2.6v2.58h-2.6zM1408.3 393.7h2.6v2.58h-2.6zM1413.5 393.7h10.3v2.58h-10.3zM1426.4 393.7h2.6v2.58h-2.6zM1431.6 393.7h2.6v2.58h-2.6zM1439.3 393.7h5.2v2.58h-5.2zM1467.7 393.7h2.6v2.58h-2.6zM1529.6 393.7h2.6v2.58h-2.6zM1297.4 396.3h2.6v2.58h-2.6zM1305.1 396.3h2.6v2.58h-2.6zM1323.2 396.3h2.6v2.58h-2.6zM1333.5 396.3h2.6v2.58h-2.6zM1341.3 396.3h2.6v2.58h-2.6zM1346.4 396.3h5.2v2.58h-5.2zM1356.7 396.3h2.6v2.58h-2.6zM1364.5 396.3h5.2v2.58h-5.2zM1374.8 396.3h2.6v2.58h-2.6zM1382.5 396.3h2.6v2.58h-2.6zM1403.2 396.3h7.7v2.58h-7.7zM1426.4 396.3h5.2v2.58h-5.2zM1434.1 396.3h2.6v2.58h-2.6zM1441.9 396.3h2.6v2.58h-2.6zM1454.8 396.3h2.6v2.58h-2.6zM1503.8 396.3h2.6v2.58h-2.6zM990.4 398.9h2.6v2.58h-2.6zM1354.2 398.9h2.6v2.58h-2.6zM1359.3 398.9h2.6v2.58h-2.6zM1367.1 398.9h2.6v2.58h-2.6zM1372.2 398.9h5.2v2.58h-5.2zM1380.0 398.9h2.6v2.58h-2.6zM1392.9 398.9h2.6v2.58h-2.6zM1400.6 398.9h5.2v2.58h-5.2zM1421.2 398.9h2.6v2.58h-2.6zM1426.4 398.9h10.3v2.58h-10.3zM1441.9 398.9h2.6v2.58h-2.6zM1454.8 398.9h2.6v2.58h-2.6zM1276.8 401.4h2.6v2.58h-2.6zM1336.1 401.4h2.6v2.58h-2.6zM1349.0 401.4h2.6v2.58h-2.6zM1356.7 401.4h2.6v2.58h-2.6zM1361.9 401.4h2.6v2.58h-2.6zM1369.6 401.4h5.2v2.58h-5.2zM1377.4 401.4h5.2v2.58h-5.2zM1385.1 401.4h7.7v2.58h-7.7zM1395.4 401.4h5.2v2.58h-5.2zM1403.2 401.4h2.6v2.58h-2.6zM1413.5 401.4h2.6v2.58h-2.6zM1436.7 401.4h2.6v2.58h-2.6zM1441.9 401.4h2.6v2.58h-2.6zM1452.2 401.4h2.6v2.58h-2.6zM1472.8 401.4h2.6v2.58h-2.6zM1310.3 404.0h2.6v2.58h-2.6zM1315.5 404.0h2.6v2.58h-2.6zM1325.8 404.0h2.6v2.58h-2.6zM1346.4 404.0h2.6v2.58h-2.6zM1356.7 404.0h2.6v2.58h-2.6zM1364.5 404.0h2.6v2.58h-2.6zM1372.2 404.0h10.3v2.58h-10.3zM1385.1 404.0h2.6v2.58h-2.6zM1390.3 404.0h2.6v2.58h-2.6zM1403.2 404.0h2.6v2.58h-2.6zM1410.9 404.0h18.1v2.58h-18.1zM1447.0 404.0h2.6v2.58h-2.6zM1307.7 406.6h2.6v2.58h-2.6zM1318.0 406.6h2.6v2.58h-2.6zM1343.8 406.6h5.2v2.58h-5.2zM1351.6 406.6h2.6v2.58h-2.6zM1361.9 406.6h2.6v2.58h-2.6zM1367.1 406.6h2.6v2.58h-2.6zM1372.2 406.6h2.6v2.58h-2.6zM1380.0 406.6h5.2v2.58h-5.2zM1387.7 406.6h2.6v2.58h-2.6zM1398.0 406.6h2.6v2.58h-2.6zM1403.2 406.6h5.2v2.58h-5.2zM1413.5 406.6h2.6v2.58h-2.6zM1418.7 406.6h5.2v2.58h-5.2zM1429.0 406.6h2.6v2.58h-2.6zM1434.1 406.6h5.2v2.58h-5.2zM1312.9 409.2h2.6v2.58h-2.6zM1328.4 409.2h2.6v2.58h-2.6zM1333.5 409.2h2.6v2.58h-2.6zM1341.3 409.2h2.6v2.58h-2.6zM1346.4 409.2h2.6v2.58h-2.6zM1351.6 409.2h2.6v2.58h-2.6zM1361.9 409.2h2.6v2.58h-2.6zM1367.1 409.2h2.6v2.58h-2.6zM1374.8 409.2h2.6v2.58h-2.6zM1380.0 409.2h7.7v2.58h-7.7zM1390.3 409.2h10.3v2.58h-10.3zM1405.8 409.2h12.9v2.58h-12.9zM1421.2 409.2h5.2v2.58h-5.2zM1444.5 409.2h2.6v2.58h-2.6zM1459.9 409.2h2.6v2.58h-2.6zM1101.3 411.8h2.6v2.58h-2.6zM1292.2 411.8h2.6v2.58h-2.6zM1300.0 411.8h2.6v2.58h-2.6zM1318.0 411.8h2.6v2.58h-2.6zM1346.4 411.8h2.6v2.58h-2.6zM1351.6 411.8h5.2v2.58h-5.2zM1367.1 411.8h7.7v2.58h-7.7zM1377.4 411.8h2.6v2.58h-2.6zM1382.5 411.8h2.6v2.58h-2.6zM1392.9 411.8h2.6v2.58h-2.6zM1398.0 411.8h10.3v2.58h-10.3zM1410.9 411.8h5.2v2.58h-5.2zM1421.2 411.8h2.6v2.58h-2.6zM1426.4 411.8h2.6v2.58h-2.6zM1436.7 411.8h2.6v2.58h-2.6zM1447.0 411.8h2.6v2.58h-2.6zM1289.7 414.3h2.6v2.58h-2.6zM1294.8 414.3h2.6v2.58h-2.6zM1320.6 414.3h2.6v2.58h-2.6zM1343.8 414.3h5.2v2.58h-5.2zM1354.2 414.3h2.6v2.58h-2.6zM1359.3 414.3h5.2v2.58h-5.2zM1367.1 414.3h2.6v2.58h-2.6zM1372.2 414.3h2.6v2.58h-2.6zM1380.0 414.3h2.6v2.58h-2.6zM1385.1 414.3h5.2v2.58h-5.2zM1392.9 414.3h2.6v2.58h-2.6zM1398.0 414.3h5.2v2.58h-5.2zM1405.8 414.3h5.2v2.58h-5.2zM1413.5 414.3h7.7v2.58h-7.7zM1423.8 414.3h2.6v2.58h-2.6zM1429.0 414.3h2.6v2.58h-2.6zM1441.9 414.3h2.6v2.58h-2.6zM1158.1 416.9h2.6v2.58h-2.6zM1307.7 416.9h2.6v2.58h-2.6zM1315.5 416.9h2.6v2.58h-2.6zM1325.8 416.9h7.7v2.58h-7.7zM1338.7 416.9h5.2v2.58h-5.2zM1346.4 416.9h2.6v2.58h-2.6zM1359.3 416.9h7.7v2.58h-7.7zM1369.6 416.9h20.6v2.58h-20.6zM1392.9 416.9h7.7v2.58h-7.7zM1405.8 416.9h15.5v2.58h-15.5zM1423.8 416.9h2.6v2.58h-2.6zM1431.6 416.9h2.6v2.58h-2.6zM1436.7 416.9h7.7v2.58h-7.7zM1447.0 416.9h5.2v2.58h-5.2zM1284.5 419.5h2.6v2.58h-2.6zM1297.4 419.5h2.6v2.58h-2.6zM1318.0 419.5h2.6v2.58h-2.6zM1325.8 419.5h5.2v2.58h-5.2zM1333.5 419.5h2.6v2.58h-2.6zM1346.4 419.5h2.6v2.58h-2.6zM1356.7 419.5h12.9v2.58h-12.9zM1374.8 419.5h2.6v2.58h-2.6zM1380.0 419.5h15.5v2.58h-15.5zM1400.6 419.5h2.6v2.58h-2.6zM1405.8 419.5h2.6v2.58h-2.6zM1423.8 419.5h2.6v2.58h-2.6zM1431.6 419.5h2.6v2.58h-2.6zM1436.7 419.5h2.6v2.58h-2.6zM1441.9 419.5h2.6v2.58h-2.6zM1449.6 419.5h2.6v2.58h-2.6zM1462.5 419.5h2.6v2.58h-2.6zM1307.7 422.1h2.6v2.58h-2.6zM1354.2 422.1h5.2v2.58h-5.2zM1361.9 422.1h5.2v2.58h-5.2zM1372.2 422.1h5.2v2.58h-5.2zM1382.5 422.1h5.2v2.58h-5.2zM1395.4 422.1h2.6v2.58h-2.6zM1405.8 422.1h2.6v2.58h-2.6zM1410.9 422.1h10.3v2.58h-10.3zM1431.6 422.1h7.7v2.58h-7.7zM1447.0 422.1h2.6v2.58h-2.6zM1454.8 422.1h2.6v2.58h-2.6zM1315.5 424.7h2.6v2.58h-2.6zM1328.4 424.7h2.6v2.58h-2.6zM1333.5 424.7h2.6v2.58h-2.6zM1346.4 424.7h5.2v2.58h-5.2zM1354.2 424.7h2.6v2.58h-2.6zM1361.9 424.7h10.3v2.58h-10.3zM1374.8 424.7h10.3v2.58h-10.3zM1392.9 424.7h25.8v2.58h-25.8zM1421.2 424.7h5.2v2.58h-5.2zM1434.1 424.7h2.6v2.58h-2.6zM1439.3 424.7h2.6v2.58h-2.6zM1287.1 427.2h2.6v2.58h-2.6zM1310.3 427.2h2.6v2.58h-2.6zM1341.3 427.2h2.6v2.58h-2.6zM1346.4 427.2h5.2v2.58h-5.2zM1354.2 427.2h5.2v2.58h-5.2zM1361.9 427.2h59.3v2.58h-59.3zM1423.8 427.2h2.6v2.58h-2.6zM1429.0 427.2h5.2v2.58h-5.2zM1297.4 429.8h2.6v2.58h-2.6zM1307.7 429.8h2.6v2.58h-2.6zM1318.0 429.8h5.2v2.58h-5.2zM1333.5 429.8h2.6v2.58h-2.6zM1343.8 429.8h5.2v2.58h-5.2zM1356.7 429.8h12.9v2.58h-12.9zM1372.2 429.8h46.4v2.58h-46.4zM1421.2 429.8h5.2v2.58h-5.2zM1436.7 429.8h5.2v2.58h-5.2zM1289.7 432.4h2.6v2.58h-2.6zM1310.3 432.4h2.6v2.58h-2.6zM1318.0 432.4h2.6v2.58h-2.6zM1328.4 432.4h5.2v2.58h-5.2zM1346.4 432.4h2.6v2.58h-2.6zM1351.6 432.4h5.2v2.58h-5.2zM1359.3 432.4h67.1v2.58h-67.1zM1429.0 432.4h2.6v2.58h-2.6zM1439.3 432.4h2.6v2.58h-2.6zM1276.8 435.0h2.6v2.58h-2.6zM1300.0 435.0h5.2v2.58h-5.2zM1323.2 435.0h2.6v2.58h-2.6zM1328.4 435.0h2.6v2.58h-2.6zM1333.5 435.0h2.6v2.58h-2.6zM1341.3 435.0h2.6v2.58h-2.6zM1346.4 435.0h7.7v2.58h-7.7zM1356.7 435.0h74.8v2.58h-74.8zM1434.1 435.0h2.6v2.58h-2.6zM1439.3 435.0h5.2v2.58h-5.2zM1300.0 437.6h5.2v2.58h-5.2zM1312.9 437.6h2.6v2.58h-2.6zM1323.2 437.6h5.2v2.58h-5.2zM1336.1 437.6h2.6v2.58h-2.6zM1341.3 437.6h5.2v2.58h-5.2zM1349.0 437.6h7.7v2.58h-7.7zM1359.3 437.6h74.8v2.58h-74.8zM1439.3 437.6h2.6v2.58h-2.6zM1447.0 437.6h2.6v2.58h-2.6zM1457.4 437.6h2.6v2.58h-2.6zM1320.6 440.1h2.6v2.58h-2.6zM1328.4 440.1h5.2v2.58h-5.2zM1336.1 440.1h2.6v2.58h-2.6zM1341.3 440.1h5.2v2.58h-5.2zM1349.0 440.1h87.7v2.58h-87.7zM1441.9 440.1h2.6v2.58h-2.6zM1227.7 442.7h2.6v2.58h-2.6zM1300.0 442.7h2.6v2.58h-2.6zM1307.7 442.7h2.6v2.58h-2.6zM1323.2 442.7h2.6v2.58h-2.6zM1328.4 442.7h18.1v2.58h-18.1zM1349.0 442.7h82.6v2.58h-82.6zM1441.9 442.7h2.6v2.58h-2.6zM1447.0 442.7h2.6v2.58h-2.6zM1080.7 445.3h2.6v2.58h-2.6zM1287.1 445.3h2.6v2.58h-2.6zM1302.6 445.3h5.2v2.58h-5.2zM1310.3 445.3h5.2v2.58h-5.2zM1323.2 445.3h7.7v2.58h-7.7zM1333.5 445.3h5.2v2.58h-5.2zM1341.3 445.3h90.3v2.58h-90.3zM1436.7 445.3h5.2v2.58h-5.2zM1444.5 445.3h2.6v2.58h-2.6zM1271.6 447.9h2.6v2.58h-2.6zM1284.5 447.9h5.2v2.58h-5.2zM1307.7 447.9h2.6v2.58h-2.6zM1315.5 447.9h2.6v2.58h-2.6zM1320.6 447.9h2.6v2.58h-2.6zM1333.5 447.9h2.6v2.58h-2.6zM1338.7 447.9h25.8v2.58h-25.8zM1367.1 447.9h10.3v2.58h-10.3zM1380.0 447.9h54.2v2.58h-54.2zM1447.0 447.9h2.6v2.58h-2.6zM1454.8 447.9h2.6v2.58h-2.6zM1266.4 450.5h2.6v2.58h-2.6zM1294.8 450.5h5.2v2.58h-5.2zM1305.1 450.5h5.2v2.58h-5.2zM1315.5 450.5h5.2v2.58h-5.2zM1325.8 450.5h110.9v2.58h-110.9zM1271.6 453.0h2.6v2.58h-2.6zM1287.1 453.0h2.6v2.58h-2.6zM1310.3 453.0h5.2v2.58h-5.2zM1318.0 453.0h2.6v2.58h-2.6zM1323.2 453.0h108.4v2.58h-108.4zM1434.1 453.0h2.6v2.58h-2.6zM1294.8 455.6h2.6v2.58h-2.6zM1300.0 455.6h2.6v2.58h-2.6zM1305.1 455.6h5.2v2.58h-5.2zM1312.9 455.6h7.7v2.58h-7.7zM1323.2 455.6h2.6v2.58h-2.6zM1328.4 455.6h105.8v2.58h-105.8zM1266.4 458.2h2.6v2.58h-2.6zM1276.8 458.2h2.6v2.58h-2.6zM1294.8 458.2h2.6v2.58h-2.6zM1300.0 458.2h2.6v2.58h-2.6zM1310.3 458.2h116.1v2.58h-116.1zM1441.9 458.2h2.6v2.58h-2.6zM1258.7 460.8h2.6v2.58h-2.6zM1287.1 460.8h12.9v2.58h-12.9zM1302.6 460.8h131.6v2.58h-131.6zM1439.3 460.8h2.6v2.58h-2.6zM1266.4 463.4h2.6v2.58h-2.6zM1276.8 463.4h2.6v2.58h-2.6zM1281.9 463.4h2.6v2.58h-2.6zM1287.1 463.4h7.7v2.58h-7.7zM1297.4 463.4h129.0v2.58h-129.0zM1429.0 463.4h2.6v2.58h-2.6zM1475.4 463.4h2.6v2.58h-2.6zM1281.9 465.9h7.7v2.58h-7.7zM1297.4 465.9h77.4v2.58h-77.4zM1377.4 465.9h43.9v2.58h-43.9zM1423.8 465.9h5.2v2.58h-5.2zM1431.6 465.9h2.6v2.58h-2.6zM1271.6 468.5h5.2v2.58h-5.2zM1284.5 468.5h5.2v2.58h-5.2zM1292.2 468.5h25.8v2.58h-25.8zM1320.6 468.5h61.9v2.58h-61.9zM1385.1 468.5h25.8v2.58h-25.8zM1413.5 468.5h12.9v2.58h-12.9zM1263.9 471.1h7.7v2.58h-7.7zM1279.3 471.1h2.6v2.58h-2.6zM1284.5 471.1h2.6v2.58h-2.6zM1289.7 471.1h2.6v2.58h-2.6zM1294.8 471.1h18.1v2.58h-18.1zM1315.5 471.1h103.2v2.58h-103.2zM1423.8 471.1h2.6v2.58h-2.6zM1431.6 471.1h2.6v2.58h-2.6zM1235.5 473.7h2.6v2.58h-2.6zM1276.8 473.7h2.6v2.58h-2.6zM1281.9 473.7h2.6v2.58h-2.6zM1287.1 473.7h2.6v2.58h-2.6zM1292.2 473.7h49.0v2.58h-49.0zM1343.8 473.7h72.2v2.58h-72.2zM1418.7 473.7h5.2v2.58h-5.2zM1426.4 473.7h5.2v2.58h-5.2zM1062.6 476.3h2.6v2.58h-2.6zM1243.2 476.3h2.6v2.58h-2.6zM1258.7 476.3h5.2v2.58h-5.2zM1269.0 476.3h5.2v2.58h-5.2zM1276.8 476.3h2.6v2.58h-2.6zM1281.9 476.3h2.6v2.58h-2.6zM1292.2 476.3h12.9v2.58h-12.9zM1307.7 476.3h38.7v2.58h-38.7zM1349.0 476.3h51.6v2.58h-51.6zM1403.2 476.3h7.7v2.58h-7.7zM1418.7 476.3h2.6v2.58h-2.6zM1263.9 478.8h15.5v2.58h-15.5zM1281.9 478.8h2.6v2.58h-2.6zM1287.1 478.8h118.7v2.58h-118.7zM1408.3 478.8h2.6v2.58h-2.6zM1413.5 478.8h2.6v2.58h-2.6zM1418.7 478.8h2.6v2.58h-2.6zM1423.8 478.8h2.6v2.58h-2.6zM1429.0 478.8h2.6v2.58h-2.6zM1436.7 478.8h2.6v2.58h-2.6zM1217.4 481.4h2.6v2.58h-2.6zM1238.1 481.4h5.2v2.58h-5.2zM1248.4 481.4h2.6v2.58h-2.6zM1258.7 481.4h12.9v2.58h-12.9zM1276.8 481.4h126.4v2.58h-126.4zM1405.8 481.4h2.6v2.58h-2.6zM1413.5 481.4h2.6v2.58h-2.6zM1251.0 484.0h2.6v2.58h-2.6zM1256.1 484.0h5.2v2.58h-5.2zM1266.4 484.0h10.3v2.58h-10.3zM1284.5 484.0h113.5v2.58h-113.5zM1403.2 484.0h2.6v2.58h-2.6zM1408.3 484.0h2.6v2.58h-2.6zM1413.5 484.0h7.7v2.58h-7.7zM1256.1 486.6h2.6v2.58h-2.6zM1269.0 486.6h5.2v2.58h-5.2zM1276.8 486.6h116.1v2.58h-116.1zM1400.6 486.6h2.6v2.58h-2.6zM1418.7 486.6h2.6v2.58h-2.6zM1447.0 486.6h2.6v2.58h-2.6zM1243.2 489.2h2.6v2.58h-2.6zM1258.7 489.2h2.6v2.58h-2.6zM1266.4 489.2h2.6v2.58h-2.6zM1274.2 489.2h2.6v2.58h-2.6zM1279.3 489.2h12.9v2.58h-12.9zM1294.8 489.2h54.2v2.58h-54.2zM1351.6 489.2h18.1v2.58h-18.1zM1372.2 489.2h25.8v2.58h-25.8zM1413.5 489.2h2.6v2.58h-2.6zM1470.3 489.2h2.6v2.58h-2.6zM1243.2 491.7h7.7v2.58h-7.7zM1261.3 491.7h5.2v2.58h-5.2zM1271.6 491.7h87.7v2.58h-87.7zM1361.9 491.7h18.1v2.58h-18.1zM1382.5 491.7h2.6v2.58h-2.6zM1387.7 491.7h2.6v2.58h-2.6zM1392.9 491.7h2.6v2.58h-2.6zM1400.6 491.7h2.6v2.58h-2.6zM1408.3 491.7h5.2v2.58h-5.2zM1421.2 491.7h2.6v2.58h-2.6zM1238.1 494.3h2.6v2.58h-2.6zM1251.0 494.3h2.6v2.58h-2.6zM1256.1 494.3h10.3v2.58h-10.3zM1269.0 494.3h36.1v2.58h-36.1zM1307.7 494.3h74.8v2.58h-74.8zM1385.1 494.3h2.6v2.58h-2.6zM1392.9 494.3h5.2v2.58h-5.2zM1403.2 494.3h2.6v2.58h-2.6zM1413.5 494.3h2.6v2.58h-2.6zM1238.1 496.9h2.6v2.58h-2.6zM1256.1 496.9h5.2v2.58h-5.2zM1263.9 496.9h2.6v2.58h-2.6zM1269.0 496.9h103.2v2.58h-103.2zM1374.8 496.9h7.7v2.58h-7.7zM1387.7 496.9h7.7v2.58h-7.7zM1408.3 496.9h2.6v2.58h-2.6zM1426.4 496.9h2.6v2.58h-2.6zM1436.7 496.9h2.6v2.58h-2.6zM1490.9 496.9h2.6v2.58h-2.6zM1248.4 499.5h7.7v2.58h-7.7zM1258.7 499.5h46.4v2.58h-46.4zM1307.7 499.5h67.1v2.58h-67.1zM1385.1 499.5h2.6v2.58h-2.6zM1400.6 499.5h2.6v2.58h-2.6zM1439.3 499.5h2.6v2.58h-2.6zM1194.2 502.1h2.6v2.58h-2.6zM1201.9 502.1h2.6v2.58h-2.6zM1245.8 502.1h2.6v2.58h-2.6zM1253.5 502.1h5.2v2.58h-5.2zM1263.9 502.1h49.0v2.58h-49.0zM1315.5 502.1h56.8v2.58h-56.8zM1390.3 502.1h2.6v2.58h-2.6zM1408.3 502.1h2.6v2.58h-2.6zM1441.9 502.1h2.6v2.58h-2.6zM1449.6 502.1h2.6v2.58h-2.6zM1261.3 504.6h85.1v2.58h-85.1zM1349.0 504.6h23.2v2.58h-23.2zM1434.1 504.6h2.6v2.58h-2.6zM1217.4 507.2h2.6v2.58h-2.6zM1258.7 507.2h105.8v2.58h-105.8zM1367.1 507.2h2.6v2.58h-2.6zM1398.0 507.2h5.2v2.58h-5.2zM1408.3 507.2h2.6v2.58h-2.6zM1413.5 507.2h2.6v2.58h-2.6zM1436.7 507.2h2.6v2.58h-2.6zM1465.1 507.2h2.6v2.58h-2.6zM1480.6 507.2h2.6v2.58h-2.6zM1183.9 509.8h2.6v2.58h-2.6zM1199.4 509.8h2.6v2.58h-2.6zM1251.0 509.8h98.0v2.58h-98.0zM1356.7 509.8h5.2v2.58h-5.2zM1364.5 509.8h5.2v2.58h-5.2zM1385.1 509.8h2.6v2.58h-2.6zM1225.2 512.4h2.6v2.58h-2.6zM1245.8 512.4h2.6v2.58h-2.6zM1251.0 512.4h33.5v2.58h-33.5zM1287.1 512.4h54.2v2.58h-54.2zM1343.8 512.4h7.7v2.58h-7.7zM1354.2 512.4h2.6v2.58h-2.6zM1372.2 512.4h5.2v2.58h-5.2zM1395.4 512.4h2.6v2.58h-2.6zM1405.8 512.4h2.6v2.58h-2.6zM1421.2 512.4h2.6v2.58h-2.6zM1227.7 515.0h2.6v2.58h-2.6zM1235.5 515.0h2.6v2.58h-2.6zM1245.8 515.0h2.6v2.58h-2.6zM1253.5 515.0h82.6v2.58h-82.6zM1343.8 515.0h2.6v2.58h-2.6zM1349.0 515.0h2.6v2.58h-2.6zM1359.3 515.0h2.6v2.58h-2.6zM1372.2 515.0h2.6v2.58h-2.6zM1380.0 515.0h2.6v2.58h-2.6zM1387.7 515.0h2.6v2.58h-2.6zM1201.9 517.5h2.6v2.58h-2.6zM1238.1 517.5h5.2v2.58h-5.2zM1248.4 517.5h5.2v2.58h-5.2zM1256.1 517.5h31.0v2.58h-31.0zM1289.7 517.5h18.1v2.58h-18.1zM1310.3 517.5h2.6v2.58h-2.6zM1315.5 517.5h18.1v2.58h-18.1zM1336.1 517.5h5.2v2.58h-5.2zM1343.8 517.5h2.6v2.58h-2.6zM1359.3 517.5h2.6v2.58h-2.6zM1369.6 517.5h2.6v2.58h-2.6zM1431.6 517.5h2.6v2.58h-2.6zM1470.3 517.5h2.6v2.58h-2.6zM1485.7 517.5h2.6v2.58h-2.6zM1225.2 520.1h5.2v2.58h-5.2zM1245.8 520.1h2.6v2.58h-2.6zM1251.0 520.1h2.6v2.58h-2.6zM1258.7 520.1h64.5v2.58h-64.5zM1325.8 520.1h2.6v2.58h-2.6zM1333.5 520.1h2.6v2.58h-2.6zM1354.2 520.1h2.6v2.58h-2.6zM1359.3 520.1h2.6v2.58h-2.6zM1374.8 520.1h2.6v2.58h-2.6zM1416.1 520.1h2.6v2.58h-2.6zM1454.8 520.1h2.6v2.58h-2.6zM1204.5 522.7h2.6v2.58h-2.6zM1214.8 522.7h5.2v2.58h-5.2zM1232.9 522.7h2.6v2.58h-2.6zM1245.8 522.7h41.3v2.58h-41.3zM1289.7 522.7h28.4v2.58h-28.4zM1325.8 522.7h5.2v2.58h-5.2zM1336.1 522.7h2.6v2.58h-2.6zM1341.3 522.7h2.6v2.58h-2.6zM1346.4 522.7h5.2v2.58h-5.2zM1356.7 522.7h2.6v2.58h-2.6zM1377.4 522.7h2.6v2.58h-2.6zM1173.6 525.3h2.6v2.58h-2.6zM1199.4 525.3h2.6v2.58h-2.6zM1217.4 525.3h5.2v2.58h-5.2zM1232.9 525.3h5.2v2.58h-5.2zM1243.2 525.3h2.6v2.58h-2.6zM1251.0 525.3h5.2v2.58h-5.2zM1258.7 525.3h7.7v2.58h-7.7zM1271.6 525.3h41.3v2.58h-41.3zM1318.0 525.3h2.6v2.58h-2.6zM1323.2 525.3h2.6v2.58h-2.6zM1364.5 525.3h2.6v2.58h-2.6zM1475.4 525.3h2.6v2.58h-2.6zM1178.7 527.9h2.6v2.58h-2.6zM1196.8 527.9h2.6v2.58h-2.6zM1201.9 527.9h2.6v2.58h-2.6zM1212.3 527.9h2.6v2.58h-2.6zM1235.5 527.9h5.2v2.58h-5.2zM1245.8 527.9h2.6v2.58h-2.6zM1251.0 527.9h2.6v2.58h-2.6zM1258.7 527.9h49.0v2.58h-49.0zM1318.0 527.9h2.6v2.58h-2.6zM1325.8 527.9h2.6v2.58h-2.6zM1349.0 527.9h2.6v2.58h-2.6zM1380.0 527.9h2.6v2.58h-2.6zM1418.7 527.9h2.6v2.58h-2.6zM1434.1 527.9h2.6v2.58h-2.6zM1470.3 527.9h2.6v2.58h-2.6zM1217.4 530.4h2.6v2.58h-2.6zM1235.5 530.4h2.6v2.58h-2.6zM1243.2 530.4h2.6v2.58h-2.6zM1248.4 530.4h2.6v2.58h-2.6zM1263.9 530.4h2.6v2.58h-2.6zM1269.0 530.4h36.1v2.58h-36.1zM1315.5 530.4h2.6v2.58h-2.6zM1330.9 530.4h2.6v2.58h-2.6zM1392.9 530.4h2.6v2.58h-2.6zM1416.1 530.4h2.6v2.58h-2.6zM1189.0 533.0h2.6v2.58h-2.6zM1194.2 533.0h2.6v2.58h-2.6zM1199.4 533.0h5.2v2.58h-5.2zM1212.3 533.0h2.6v2.58h-2.6zM1220.0 533.0h5.2v2.58h-5.2zM1230.3 533.0h2.6v2.58h-2.6zM1243.2 533.0h5.2v2.58h-5.2zM1261.3 533.0h5.2v2.58h-5.2zM1271.6 533.0h7.7v2.58h-7.7zM1284.5 533.0h2.6v2.58h-2.6zM1292.2 533.0h2.6v2.58h-2.6zM1300.0 533.0h7.7v2.58h-7.7zM1310.3 533.0h2.6v2.58h-2.6zM1338.7 533.0h2.6v2.58h-2.6zM1423.8 533.0h2.6v2.58h-2.6zM1155.5 535.6h2.6v2.58h-2.6zM1163.2 535.6h2.6v2.58h-2.6zM1168.4 535.6h2.6v2.58h-2.6zM1199.4 535.6h2.6v2.58h-2.6zM1207.1 535.6h2.6v2.58h-2.6zM1225.2 535.6h7.7v2.58h-7.7zM1251.0 535.6h2.6v2.58h-2.6zM1271.6 535.6h5.2v2.58h-5.2zM1284.5 535.6h5.2v2.58h-5.2zM1292.2 535.6h2.6v2.58h-2.6zM1300.0 535.6h2.6v2.58h-2.6zM1325.8 535.6h2.6v2.58h-2.6zM1426.4 535.6h2.6v2.58h-2.6zM1163.2 538.2h2.6v2.58h-2.6zM1176.1 538.2h5.2v2.58h-5.2zM1194.2 538.2h2.6v2.58h-2.6zM1199.4 538.2h12.9v2.58h-12.9zM1217.4 538.2h5.2v2.58h-5.2zM1238.1 538.2h2.6v2.58h-2.6zM1263.9 538.2h10.3v2.58h-10.3zM1284.5 538.2h2.6v2.58h-2.6zM1289.7 538.2h5.2v2.58h-5.2zM1369.6 538.2h2.6v2.58h-2.6zM1377.4 538.2h2.6v2.58h-2.6zM1403.2 538.2h2.6v2.58h-2.6zM1413.5 538.2h2.6v2.58h-2.6zM1434.1 538.2h2.6v2.58h-2.6zM1449.6 538.2h2.6v2.58h-2.6zM1145.2 540.8h2.6v2.58h-2.6zM1178.7 540.8h2.6v2.58h-2.6zM1207.1 540.8h18.1v2.58h-18.1zM1232.9 540.8h7.7v2.58h-7.7zM1256.1 540.8h2.6v2.58h-2.6zM1284.5 540.8h2.6v2.58h-2.6zM1289.7 540.8h2.6v2.58h-2.6zM1297.4 540.8h2.6v2.58h-2.6zM1413.5 540.8h2.6v2.58h-2.6zM1485.7 540.8h2.6v2.58h-2.6zM1129.7 543.3h2.6v2.58h-2.6zM1163.2 543.3h2.6v2.58h-2.6zM1168.4 543.3h2.6v2.58h-2.6zM1173.6 543.3h2.6v2.58h-2.6zM1199.4 543.3h2.6v2.58h-2.6zM1204.5 543.3h10.3v2.58h-10.3zM1220.0 543.3h2.6v2.58h-2.6zM1238.1 543.3h2.6v2.58h-2.6zM1245.8 543.3h2.6v2.58h-2.6zM1269.0 543.3h2.6v2.58h-2.6zM1274.2 543.3h2.6v2.58h-2.6zM1356.7 543.3h2.6v2.58h-2.6zM1369.6 543.3h2.6v2.58h-2.6zM1374.8 543.3h2.6v2.58h-2.6zM1418.7 543.3h2.6v2.58h-2.6zM1599.3 543.3h2.6v2.58h-2.6zM1160.7 545.9h2.6v2.58h-2.6zM1165.8 545.9h2.6v2.58h-2.6zM1171.0 545.9h2.6v2.58h-2.6zM1178.7 545.9h7.7v2.58h-7.7zM1209.7 545.9h2.6v2.58h-2.6zM1214.8 545.9h5.2v2.58h-5.2zM1225.2 545.9h2.6v2.58h-2.6zM1235.5 545.9h2.6v2.58h-2.6zM1240.6 545.9h2.6v2.58h-2.6zM1251.0 545.9h2.6v2.58h-2.6zM1307.7 545.9h2.6v2.58h-2.6zM1312.9 545.9h2.6v2.58h-2.6zM1452.2 545.9h2.6v2.58h-2.6zM1098.7 548.5h2.6v2.58h-2.6zM1168.4 548.5h5.2v2.58h-5.2zM1176.1 548.5h2.6v2.58h-2.6zM1186.5 548.5h2.6v2.58h-2.6zM1194.2 548.5h7.7v2.58h-7.7zM1209.7 548.5h2.6v2.58h-2.6zM1220.0 548.5h2.6v2.58h-2.6zM1266.4 548.5h2.6v2.58h-2.6zM1279.3 548.5h2.6v2.58h-2.6zM1305.1 548.5h2.6v2.58h-2.6zM1369.6 548.5h2.6v2.58h-2.6zM1398.0 548.5h2.6v2.58h-2.6zM1405.8 548.5h2.6v2.58h-2.6zM1418.7 548.5h2.6v2.58h-2.6zM1152.9 551.1h2.6v2.58h-2.6zM1160.7 551.1h2.6v2.58h-2.6zM1171.0 551.1h2.6v2.58h-2.6zM1178.7 551.1h2.6v2.58h-2.6zM1186.5 551.1h5.2v2.58h-5.2zM1230.3 551.1h2.6v2.58h-2.6zM1281.9 551.1h2.6v2.58h-2.6zM1111.6 553.7h2.6v2.58h-2.6zM1127.1 553.7h2.6v2.58h-2.6zM1158.1 553.7h2.6v2.58h-2.6zM1173.6 553.7h5.2v2.58h-5.2zM1181.3 553.7h2.6v2.58h-2.6zM1194.2 553.7h2.6v2.58h-2.6zM1199.4 553.7h2.6v2.58h-2.6zM1204.5 553.7h2.6v2.58h-2.6zM1212.3 553.7h5.2v2.58h-5.2zM1230.3 553.7h2.6v2.58h-2.6zM1444.5 553.7h2.6v2.58h-2.6zM1452.2 553.7h2.6v2.58h-2.6zM1155.5 556.2h2.6v2.58h-2.6zM1176.1 556.2h2.6v2.58h-2.6zM1194.2 556.2h2.6v2.58h-2.6zM1240.6 556.2h2.6v2.58h-2.6zM1274.2 556.2h2.6v2.58h-2.6zM1398.0 556.2h2.6v2.58h-2.6zM1410.9 556.2h2.6v2.58h-2.6zM1160.7 558.8h2.6v2.58h-2.6zM1165.8 558.8h5.2v2.58h-5.2zM1181.3 558.8h2.6v2.58h-2.6zM1189.0 558.8h2.6v2.58h-2.6zM1351.6 558.8h2.6v2.58h-2.6zM1387.7 558.8h2.6v2.58h-2.6zM1431.6 558.8h2.6v2.58h-2.6zM1439.3 558.8h2.6v2.58h-2.6zM1152.9 561.4h2.6v2.58h-2.6zM1168.4 561.4h2.6v2.58h-2.6zM1212.3 561.4h2.6v2.58h-2.6zM1230.3 561.4h2.6v2.58h-2.6zM1372.2 561.4h2.6v2.58h-2.6zM1392.9 561.4h2.6v2.58h-2.6zM1434.1 561.4h2.6v2.58h-2.6zM1532.2 561.4h2.6v2.58h-2.6zM1147.8 564.0h2.6v2.58h-2.6zM1183.9 564.0h2.6v2.58h-2.6zM1253.5 564.0h2.6v2.58h-2.6zM1119.4 571.7h2.6v2.58h-2.6zM1201.9 571.7h2.6v2.58h-2.6zM1418.7 571.7h2.6v2.58h-2.6zM1467.7 571.7h2.6v2.58h-2.6zM1439.3 574.3h2.6v2.58h-2.6zM1413.5 576.9h2.6v2.58h-2.6zM1459.9 576.9h2.6v2.58h-2.6zM1173.6 579.5h2.6v2.58h-2.6zM1382.5 594.9h2.6v2.58h-2.6zM1403.2 594.9h2.6v2.58h-2.6zM1431.6 607.8h2.6v2.58h-2.6zM1436.7 613.0h2.6v2.58h-2.6zM1490.9 615.6h2.6v2.58h-2.6zM1493.5 620.7h2.6v2.58h-2.6zM1292.2 623.3h2.6v2.58h-2.6zM1439.3 623.3h2.6v2.58h-2.6zM1447.0 625.9h2.6v2.58h-2.6zM1418.7 631.1h2.6v2.58h-2.6zM1462.5 646.5h2.6v2.58h-2.6zM1454.8 669.8h2.6v2.58h-2.6zM1436.7 677.5h2.6v2.58h-2.6zM1289.7 726.5h2.6v2.58h-2.6z"/>
<rect x="118.00" y="86.00" width="3.20" height="660.20" fill="#000"/>
<rect x="118.00" y="86.00" width="661.00" height="3.20" fill="#000"/>
<rect x="775.80" y="86.00" width="3.20" height="674.50" fill="#000"/>
<rect x="118.00" y="743.00" width="661.00" height="3.20" fill="#000"/>
<rect x="528.00" y="86.00" width="3.20" height="660.20" fill="#000"/>
<rect x="118.00" y="388.60" width="661.00" height="3.20" fill="#000"/>
<rect x="104.00" y="635.70" width="14.00" height="3.40" fill="#000"/>
<rect x="104.00" y="525.80" width="14.00" height="3.40" fill="#000"/>
<rect x="104.00" y="415.80" width="14.00" height="3.40" fill="#000"/>
<rect x="104.00" y="306.30" width="14.00" height="3.40" fill="#000"/>
<rect x="104.00" y="195.30" width="14.00" height="3.40" fill="#000"/>
<rect x="104.00" y="86.00" width="14.00" height="3.40" fill="#000"/>
<rect x="112.20" y="710.76" width="5.80" height="3.00" fill="#000"/>
<rect x="112.20" y="691.90" width="5.80" height="3.00" fill="#000"/>
<rect x="112.20" y="678.52" width="5.80" height="3.00" fill="#000"/>
<rect x="112.20" y="668.14" width="5.80" height="3.00" fill="#000"/>
<rect x="112.20" y="659.66" width="5.80" height="3.00" fill="#000"/>
<rect x="112.20" y="652.49" width="5.80" height="3.00" fill="#000"/>
<rect x="112.20" y="646.28" width="5.80" height="3.00" fill="#000"/>
<rect x="112.20" y="640.80" width="5.80" height="3.00" fill="#000"/>
<rect x="112.20" y="602.82" width="5.80" height="3.00" fill="#000"/>
<rect x="112.20" y="583.46" width="5.80" height="3.00" fill="#000"/>
<rect x="112.20" y="569.73" width="5.80" height="3.00" fill="#000"/>
<rect x="112.20" y="559.08" width="5.80" height="3.00" fill="#000"/>
<rect x="112.20" y="550.38" width="5.80" height="3.00" fill="#000"/>
<rect x="112.20" y="543.02" width="5.80" height="3.00" fill="#000"/>
<rect x="112.20" y="536.65" width="5.80" height="3.00" fill="#000"/>
<rect x="112.20" y="531.03" width="5.80" height="3.00" fill="#000"/>
<rect x="112.20" y="492.89" width="5.80" height="3.00" fill="#000"/>
<rect x="112.20" y="473.52" width="5.80" height="3.00" fill="#000"/>
<rect x="112.20" y="459.77" width="5.80" height="3.00" fill="#000"/>
<rect x="112.20" y="449.11" width="5.80" height="3.00" fill="#000"/>
<rect x="112.20" y="440.40" width="5.80" height="3.00" fill="#000"/>
<rect x="112.20" y="433.04" width="5.80" height="3.00" fill="#000"/>
<rect x="112.20" y="426.66" width="5.80" height="3.00" fill="#000"/>
<rect x="112.20" y="421.03" width="5.80" height="3.00" fill="#000"/>
<rect x="112.20" y="383.04" width="5.80" height="3.00" fill="#000"/>
<rect x="112.20" y="363.76" width="5.80" height="3.00" fill="#000"/>
<rect x="112.20" y="350.07" width="5.80" height="3.00" fill="#000"/>
<rect x="112.20" y="339.46" width="5.80" height="3.00" fill="#000"/>
<rect x="112.20" y="330.79" width="5.80" height="3.00" fill="#000"/>
<rect x="112.20" y="323.46" width="5.80" height="3.00" fill="#000"/>
<rect x="112.20" y="317.11" width="5.80" height="3.00" fill="#000"/>
<rect x="112.20" y="311.51" width="5.80" height="3.00" fill="#000"/>
<rect x="112.20" y="273.09" width="5.80" height="3.00" fill="#000"/>
<rect x="112.20" y="253.54" width="5.80" height="3.00" fill="#000"/>
<rect x="112.20" y="239.67" width="5.80" height="3.00" fill="#000"/>
<rect x="112.20" y="228.91" width="5.80" height="3.00" fill="#000"/>
<rect x="112.20" y="220.13" width="5.80" height="3.00" fill="#000"/>
<rect x="112.20" y="212.69" width="5.80" height="3.00" fill="#000"/>
<rect x="112.20" y="206.26" width="5.80" height="3.00" fill="#000"/>
<rect x="112.20" y="200.58" width="5.80" height="3.00" fill="#000"/>
<rect x="112.20" y="162.60" width="5.80" height="3.00" fill="#000"/>
<rect x="112.20" y="143.35" width="5.80" height="3.00" fill="#000"/>
<rect x="112.20" y="129.69" width="5.80" height="3.00" fill="#000"/>
<rect x="112.20" y="119.10" width="5.80" height="3.00" fill="#000"/>
<rect x="112.20" y="110.45" width="5.80" height="3.00" fill="#000"/>
<rect x="112.20" y="103.13" width="5.80" height="3.00" fill="#000"/>
<rect x="112.20" y="96.79" width="5.80" height="3.00" fill="#000"/>
<rect x="112.20" y="91.20" width="5.80" height="3.00" fill="#000"/>
<rect x="225.10" y="746.20" width="3.40" height="14.30" fill="#000"/>
<rect x="334.80" y="746.20" width="3.40" height="14.30" fill="#000"/>
<rect x="445.00" y="746.20" width="3.40" height="14.30" fill="#000"/>
<rect x="555.20" y="746.20" width="3.40" height="14.30" fill="#000"/>
<rect x="664.80" y="746.20" width="3.40" height="14.30" fill="#000"/>
<rect x="149.60" y="746.20" width="3.00" height="6.30" fill="#000"/>
<rect x="168.67" y="746.20" width="3.00" height="6.30" fill="#000"/>
<rect x="182.20" y="746.20" width="3.00" height="6.30" fill="#000"/>
<rect x="192.70" y="746.20" width="3.00" height="6.30" fill="#000"/>
<rect x="201.27" y="746.20" width="3.00" height="6.30" fill="#000"/>
<rect x="208.52" y="746.20" width="3.00" height="6.30" fill="#000"/>
<rect x="214.80" y="746.20" width="3.00" height="6.30" fill="#000"/>
<rect x="220.34" y="746.20" width="3.00" height="6.30" fill="#000"/>
<rect x="258.32" y="746.20" width="3.00" height="6.30" fill="#000"/>
<rect x="277.64" y="746.20" width="3.00" height="6.30" fill="#000"/>
<rect x="291.35" y="746.20" width="3.00" height="6.30" fill="#000"/>
<rect x="301.98" y="746.20" width="3.00" height="6.30" fill="#000"/>
<rect x="310.66" y="746.20" width="3.00" height="6.30" fill="#000"/>
<rect x="318.01" y="746.20" width="3.00" height="6.30" fill="#000"/>
<rect x="324.37" y="746.20" width="3.00" height="6.30" fill="#000"/>
<rect x="329.98" y="746.20" width="3.00" height="6.30" fill="#000"/>
<rect x="368.17" y="746.20" width="3.00" height="6.30" fill="#000"/>
<rect x="387.58" y="746.20" width="3.00" height="6.30" fill="#000"/>
<rect x="401.35" y="746.20" width="3.00" height="6.30" fill="#000"/>
<rect x="412.03" y="746.20" width="3.00" height="6.30" fill="#000"/>
<rect x="420.75" y="746.20" width="3.00" height="6.30" fill="#000"/>
<rect x="428.13" y="746.20" width="3.00" height="6.30" fill="#000"/>
<rect x="434.52" y="746.20" width="3.00" height="6.30" fill="#000"/>
<rect x="440.16" y="746.20" width="3.00" height="6.30" fill="#000"/>
<rect x="478.37" y="746.20" width="3.00" height="6.30" fill="#000"/>
<rect x="497.78" y="746.20" width="3.00" height="6.30" fill="#000"/>
<rect x="511.55" y="746.20" width="3.00" height="6.30" fill="#000"/>
<rect x="522.23" y="746.20" width="3.00" height="6.30" fill="#000"/>
<rect x="530.95" y="746.20" width="3.00" height="6.30" fill="#000"/>
<rect x="538.33" y="746.20" width="3.00" height="6.30" fill="#000"/>
<rect x="544.72" y="746.20" width="3.00" height="6.30" fill="#000"/>
<rect x="550.36" y="746.20" width="3.00" height="6.30" fill="#000"/>
<rect x="588.39" y="746.20" width="3.00" height="6.30" fill="#000"/>
<rect x="607.69" y="746.20" width="3.00" height="6.30" fill="#000"/>
<rect x="621.39" y="746.20" width="3.00" height="6.30" fill="#000"/>
<rect x="632.01" y="746.20" width="3.00" height="6.30" fill="#000"/>
<rect x="640.69" y="746.20" width="3.00" height="6.30" fill="#000"/>
<rect x="648.02" y="746.20" width="3.00" height="6.30" fill="#000"/>
<rect x="654.38" y="746.20" width="3.00" height="6.30" fill="#000"/>
<rect x="659.98" y="746.20" width="3.00" height="6.30" fill="#000"/>
<rect x="698.41" y="746.20" width="3.00" height="6.30" fill="#000"/>
<rect x="717.96" y="746.20" width="3.00" height="6.30" fill="#000"/>
<rect x="731.83" y="746.20" width="3.00" height="6.30" fill="#000"/>
<rect x="742.59" y="746.20" width="3.00" height="6.30" fill="#000"/>
<rect x="751.37" y="746.20" width="3.00" height="6.30" fill="#000"/>
<rect x="758.81" y="746.20" width="3.00" height="6.30" fill="#000"/>
<rect x="765.24" y="746.20" width="3.00" height="6.30" fill="#000"/>
<rect x="770.92" y="746.20" width="3.00" height="6.30" fill="#000"/>
<rect x="958.50" y="94.00" width="3.20" height="660.00" fill="#000"/>
<rect x="958.50" y="94.00" width="673.00" height="3.20" fill="#000"/>
<rect x="1628.30" y="94.00" width="3.20" height="673.40" fill="#000"/>
<rect x="958.50" y="750.80" width="673.00" height="3.20" fill="#000"/>
<rect x="1376.40" y="94.00" width="3.20" height="660.00" fill="#000"/>
<rect x="958.50" y="384.40" width="673.00" height="3.20" fill="#000"/>
<rect x="944.00" y="643.10" width="14.50" height="3.40" fill="#000"/>
<rect x="944.00" y="533.55" width="14.50" height="3.40" fill="#000"/>
<rect x="944.00" y="422.80" width="14.50" height="3.40" fill="#000"/>
<rect x="944.00" y="314.05" width="14.50" height="3.40" fill="#000"/>
<rect x="944.00" y="204.30" width="14.50" height="3.40" fill="#000"/>
<rect x="944.00" y="93.80" width="14.50" height="3.40" fill="#000"/>
<rect x="952.40" y="717.53" width="6.10" height="3.00" fill="#000"/>
<rect x="952.40" y="698.83" width="6.10" height="3.00" fill="#000"/>
<rect x="952.40" y="685.56" width="6.10" height="3.00" fill="#000"/>
<rect x="952.40" y="675.27" width="6.10" height="3.00" fill="#000"/>
<rect x="952.40" y="666.86" width="6.10" height="3.00" fill="#000"/>
<rect x="952.40" y="659.75" width="6.10" height="3.00" fill="#000"/>
<rect x="952.40" y="653.59" width="6.10" height="3.00" fill="#000"/>
<rect x="952.40" y="648.16" width="6.10" height="3.00" fill="#000"/>
<rect x="952.40" y="610.32" width="6.10" height="3.00" fill="#000"/>
<rect x="952.40" y="591.03" width="6.10" height="3.00" fill="#000"/>
<rect x="952.40" y="577.34" width="6.10" height="3.00" fill="#000"/>
<rect x="952.40" y="566.73" width="6.10" height="3.00" fill="#000"/>
<rect x="952.40" y="558.05" width="6.10" height="3.00" fill="#000"/>
<rect x="952.40" y="550.72" width="6.10" height="3.00" fill="#000"/>
<rect x="952.40" y="544.37" width="6.10" height="3.00" fill="#000"/>
<rect x="952.40" y="538.76" width="6.10" height="3.00" fill="#000"/>
<rect x="952.40" y="500.41" width="6.10" height="3.00" fill="#000"/>
<rect x="952.40" y="480.91" width="6.10" height="3.00" fill="#000"/>
<rect x="952.40" y="467.07" width="6.10" height="3.00" fill="#000"/>
<rect x="952.40" y="456.34" width="6.10" height="3.00" fill="#000"/>
<rect x="952.40" y="447.57" width="6.10" height="3.00" fill="#000"/>
<rect x="952.40" y="440.16" width="6.10" height="3.00" fill="#000"/>
<rect x="952.40" y="433.73" width="6.10" height="3.00" fill="#000"/>
<rect x="952.40" y="428.07" width="6.10" height="3.00" fill="#000"/>
<rect x="952.40" y="390.26" width="6.10" height="3.00" fill="#000"/>
<rect x="952.40" y="371.11" width="6.10" height="3.00" fill="#000"/>
<rect x="952.40" y="357.53" width="6.10" height="3.00" fill="#000"/>
<rect x="952.40" y="346.99" width="6.10" height="3.00" fill="#000"/>
<rect x="952.40" y="338.38" width="6.10" height="3.00" fill="#000"/>
<rect x="952.40" y="331.10" width="6.10" height="3.00" fill="#000"/>
<rect x="952.40" y="324.79" width="6.10" height="3.00" fill="#000"/>
<rect x="952.40" y="319.23" width="6.10" height="3.00" fill="#000"/>
<rect x="952.40" y="281.21" width="6.10" height="3.00" fill="#000"/>
<rect x="952.40" y="261.89" width="6.10" height="3.00" fill="#000"/>
<rect x="952.40" y="248.17" width="6.10" height="3.00" fill="#000"/>
<rect x="952.40" y="237.54" width="6.10" height="3.00" fill="#000"/>
<rect x="952.40" y="228.85" width="6.10" height="3.00" fill="#000"/>
<rect x="952.40" y="221.50" width="6.10" height="3.00" fill="#000"/>
<rect x="952.40" y="215.14" width="6.10" height="3.00" fill="#000"/>
<rect x="952.40" y="209.52" width="6.10" height="3.00" fill="#000"/>
<rect x="952.40" y="171.24" width="6.10" height="3.00" fill="#000"/>
<rect x="952.40" y="151.78" width="6.10" height="3.00" fill="#000"/>
<rect x="952.40" y="137.97" width="6.10" height="3.00" fill="#000"/>
<rect x="952.40" y="127.26" width="6.10" height="3.00" fill="#000"/>
<rect x="952.40" y="118.51" width="6.10" height="3.00" fill="#000"/>
<rect x="952.40" y="111.12" width="6.10" height="3.00" fill="#000"/>
<rect x="952.40" y="104.71" width="6.10" height="3.00" fill="#000"/>
<rect x="952.40" y="99.06" width="6.10" height="3.00" fill="#000"/>
<rect x="1067.10" y="754.00" width="3.40" height="13.40" fill="#000"/>
<rect x="1179.10" y="754.00" width="3.40" height="13.40" fill="#000"/>
<rect x="1292.20" y="754.00" width="3.40" height="13.40" fill="#000"/>
<rect x="1403.90" y="754.00" width="3.40" height="13.40" fill="#000"/>
<rect x="1515.60" y="754.00" width="3.40" height="13.40" fill="#000"/>
<rect x="991.95" y="754.00" width="3.00" height="5.50" fill="#000"/>
<rect x="1010.93" y="754.00" width="3.00" height="5.50" fill="#000"/>
<rect x="1024.40" y="754.00" width="3.00" height="5.50" fill="#000"/>
<rect x="1034.85" y="754.00" width="3.00" height="5.50" fill="#000"/>
<rect x="1043.38" y="754.00" width="3.00" height="5.50" fill="#000"/>
<rect x="1050.60" y="754.00" width="3.00" height="5.50" fill="#000"/>
<rect x="1056.85" y="754.00" width="3.00" height="5.50" fill="#000"/>
<rect x="1062.37" y="754.00" width="3.00" height="5.50" fill="#000"/>
<rect x="1101.02" y="754.00" width="3.00" height="5.50" fill="#000"/>
<rect x="1120.74" y="754.00" width="3.00" height="5.50" fill="#000"/>
<rect x="1134.73" y="754.00" width="3.00" height="5.50" fill="#000"/>
<rect x="1145.58" y="754.00" width="3.00" height="5.50" fill="#000"/>
<rect x="1154.45" y="754.00" width="3.00" height="5.50" fill="#000"/>
<rect x="1161.95" y="754.00" width="3.00" height="5.50" fill="#000"/>
<rect x="1168.45" y="754.00" width="3.00" height="5.50" fill="#000"/>
<rect x="1174.18" y="754.00" width="3.00" height="5.50" fill="#000"/>
<rect x="1213.35" y="754.00" width="3.00" height="5.50" fill="#000"/>
<rect x="1233.26" y="754.00" width="3.00" height="5.50" fill="#000"/>
<rect x="1247.39" y="754.00" width="3.00" height="5.50" fill="#000"/>
<rect x="1258.35" y="754.00" width="3.00" height="5.50" fill="#000"/>
<rect x="1267.31" y="754.00" width="3.00" height="5.50" fill="#000"/>
<rect x="1274.88" y="754.00" width="3.00" height="5.50" fill="#000"/>
<rect x="1281.44" y="754.00" width="3.00" height="5.50" fill="#000"/>
<rect x="1287.22" y="754.00" width="3.00" height="5.50" fill="#000"/>
<rect x="1326.03" y="754.00" width="3.00" height="5.50" fill="#000"/>
<rect x="1345.69" y="754.00" width="3.00" height="5.50" fill="#000"/>
<rect x="1359.65" y="754.00" width="3.00" height="5.50" fill="#000"/>
<rect x="1370.47" y="754.00" width="3.00" height="5.50" fill="#000"/>
<rect x="1379.32" y="754.00" width="3.00" height="5.50" fill="#000"/>
<rect x="1386.80" y="754.00" width="3.00" height="5.50" fill="#000"/>
<rect x="1393.28" y="754.00" width="3.00" height="5.50" fill="#000"/>
<rect x="1398.99" y="754.00" width="3.00" height="5.50" fill="#000"/>
<rect x="1437.73" y="754.00" width="3.00" height="5.50" fill="#000"/>
<rect x="1457.39" y="754.00" width="3.00" height="5.50" fill="#000"/>
<rect x="1471.35" y="754.00" width="3.00" height="5.50" fill="#000"/>
<rect x="1482.17" y="754.00" width="3.00" height="5.50" fill="#000"/>
<rect x="1491.02" y="754.00" width="3.00" height="5.50" fill="#000"/>
<rect x="1498.50" y="754.00" width="3.00" height="5.50" fill="#000"/>
<rect x="1504.98" y="754.00" width="3.00" height="5.50" fill="#000"/>
<rect x="1510.69" y="754.00" width="3.00" height="5.50" fill="#000"/>
<rect x="1549.58" y="754.00" width="3.00" height="5.50" fill="#000"/>
<rect x="1569.33" y="754.00" width="3.00" height="5.50" fill="#000"/>
<rect x="1583.35" y="754.00" width="3.00" height="5.50" fill="#000"/>
<rect x="1594.22" y="754.00" width="3.00" height="5.50" fill="#000"/>
<rect x="1603.11" y="754.00" width="3.00" height="5.50" fill="#000"/>
<rect x="1610.62" y="754.00" width="3.00" height="5.50" fill="#000"/>
<rect x="1617.13" y="754.00" width="3.00" height="5.50" fill="#000"/>
<rect x="1622.87" y="754.00" width="3.00" height="5.50" fill="#000"/>
<text transform="translate(51.16,649.18) scale(0.872,1)" font-size="31.00">10</text><text transform="translate(98.50,636.75) scale(1.045,1)" font-size="19.41" text-anchor="end">-2</text>
<text transform="translate(891.16,656.58) scale(0.872,1)" font-size="31.00">10</text><text transform="translate(938.50,644.15) scale(1.045,1)" font-size="19.41" text-anchor="end">-2</text>
<text transform="translate(51.16,539.28) scale(0.872,1)" font-size="31.00">10</text><text transform="translate(98.50,526.85) scale(1.045,1)" font-size="19.41" text-anchor="end">-1</text>
<text transform="translate(891.16,547.03) scale(0.872,1)" font-size="31.00">10</text><text transform="translate(938.50,534.60) scale(1.045,1)" font-size="19.41" text-anchor="end">-1</text>
<text transform="translate(58.36,429.28) scale(0.872,1)" font-size="31.00">10</text><text transform="translate(98.50,416.85) scale(1.045,1)" font-size="19.41" text-anchor="end">0</text>
<text transform="translate(898.36,436.28) scale(0.872,1)" font-size="31.00">10</text><text transform="translate(938.50,423.85) scale(1.045,1)" font-size="19.41" text-anchor="end">0</text>
<text transform="translate(58.36,319.78) scale(0.872,1)" font-size="31.00">10</text><text transform="translate(98.50,307.35) scale(1.045,1)" font-size="19.41" text-anchor="end">1</text>
<text transform="translate(898.36,327.53) scale(0.872,1)" font-size="31.00">10</text><text transform="translate(938.50,315.10) scale(1.045,1)" font-size="19.41" text-anchor="end">1</text>
<text transform="translate(58.36,208.78) scale(0.872,1)" font-size="31.00">10</text><text transform="translate(98.50,196.35) scale(1.045,1)" font-size="19.41" text-anchor="end">2</text>
<text transform="translate(898.36,217.78) scale(0.872,1)" font-size="31.00">10</text><text transform="translate(938.50,205.35) scale(1.045,1)" font-size="19.41" text-anchor="end">2</text>
<text transform="translate(58.36,99.48) scale(0.872,1)" font-size="31.00">10</text><text transform="translate(98.50,87.05) scale(1.045,1)" font-size="19.41" text-anchor="end">3</text>
<text transform="translate(898.36,107.28) scale(0.872,1)" font-size="31.00">10</text><text transform="translate(938.50,94.85) scale(1.045,1)" font-size="19.41" text-anchor="end">3</text>
<text transform="translate(203.86,793.08) scale(0.872,1)" font-size="31.00">10</text><text transform="translate(251.00,780.65) scale(1.045,1)" font-size="19.41" text-anchor="end">-2</text>
<text transform="translate(1045.86,800.18) scale(0.872,1)" font-size="31.00">10</text><text transform="translate(1093.00,787.75) scale(1.045,1)" font-size="19.41" text-anchor="end">-2</text>
<text transform="translate(313.56,793.08) scale(0.872,1)" font-size="31.00">10</text><text transform="translate(360.70,780.65) scale(1.045,1)" font-size="19.41" text-anchor="end">-1</text>
<text transform="translate(1157.86,800.18) scale(0.872,1)" font-size="31.00">10</text><text transform="translate(1205.00,787.75) scale(1.045,1)" font-size="19.41" text-anchor="end">-1</text>
<text transform="translate(427.36,793.08) scale(0.872,1)" font-size="31.00">10</text><text transform="translate(467.30,780.65) scale(1.045,1)" font-size="19.41" text-anchor="end">0</text>
<text transform="translate(1274.56,800.18) scale(0.872,1)" font-size="31.00">10</text><text transform="translate(1314.50,787.75) scale(1.045,1)" font-size="19.41" text-anchor="end">0</text>
<text transform="translate(537.56,793.08) scale(0.872,1)" font-size="31.00">10</text><text transform="translate(577.50,780.65) scale(1.045,1)" font-size="19.41" text-anchor="end">1</text>
<text transform="translate(1386.26,800.18) scale(0.872,1)" font-size="31.00">10</text><text transform="translate(1426.20,787.75) scale(1.045,1)" font-size="19.41" text-anchor="end">1</text>
<text transform="translate(647.16,793.08) scale(0.872,1)" font-size="31.00">10</text><text transform="translate(687.10,780.65) scale(1.045,1)" font-size="19.41" text-anchor="end">2</text>
<text transform="translate(1497.96,800.18) scale(0.872,1)" font-size="31.00">10</text><text transform="translate(1537.90,787.75) scale(1.045,1)" font-size="19.41" text-anchor="end">2</text>
<text transform="translate(758.16,793.08) scale(0.872,1)" font-size="31.00">10</text><text transform="translate(798.10,780.65) scale(1.045,1)" font-size="19.41" text-anchor="end">3</text>
<text transform="translate(1610.16,800.18) scale(0.872,1)" font-size="31.00">10</text><text transform="translate(1650.10,787.75) scale(1.045,1)" font-size="19.41" text-anchor="end">3</text>
<rect x="117.90" y="88.00" width="233.20" height="61.90" rx="8" fill="#fff" stroke="#b9b9b9" stroke-width="3.8"/>
<path d="M646.55 86.95H775.05V183.65Q775.05 192.65 766.05 192.65H655.55Q646.55 192.65 646.55 183.65Z" fill="#fff" stroke="#7c7c7c" stroke-width="1.9"/><rect x="645.60" y="86.00" width="130.40" height="3.20" fill="#9a9a9a"/>
<rect x="636.05" y="633.75" width="138.70" height="108.30" rx="8" fill="#fff" stroke="#7c7c7c" stroke-width="1.9"/>
<rect x="118.55" y="677.85" width="257.60" height="60.20" rx="8" fill="#fff" stroke="#7c7c7c" stroke-width="1.9"/>
<rect x="962.40" y="97.90" width="244.20" height="67.70" rx="8" fill="#fff" stroke="#b9b9b9" stroke-width="3.8"/>
<path d="M1486.35 94.95H1627.55V192.55Q1627.55 201.55 1618.55 201.55H1495.35Q1486.35 201.55 1486.35 192.55Z" fill="#fff" stroke="#7c7c7c" stroke-width="1.9"/><rect x="1485.40" y="94.00" width="143.10" height="3.20" fill="#9a9a9a"/>
<rect x="1486.55" y="641.45" width="141.20" height="108.10" rx="8" fill="#fff" stroke="#7c7c7c" stroke-width="1.9"/>
<rect x="959.25" y="688.55" width="259.10" height="59.50" rx="8" fill="#fff" stroke="#7c7c7c" stroke-width="1.9"/>
<rect x="361" y="12" width="172.5" height="69" rx="3" fill="#000"/>
<rect x="1139.5" y="1.1" width="339" height="84.4" rx="3" fill="#000"/>
<text transform="translate(17.37,39.41) scale(0.981,1)" font-size="33.74" font-weight="bold" fill="#000">A</text>
<text transform="translate(852.50,39.41) scale(0.983,1)" font-size="33.74" font-weight="bold" fill="#000">B</text>
<text transform="translate(132.34,132.63) scale(0.908,1)" font-size="30.25" font-weight="bold" fill="#000">necrotic:</text>
<text transform="translate(248.78,133.39) scale(0.845,1)" font-size="35.89" font-weight="bold" fill="#000">1.43 %</text>
<text transform="translate(658.68,132.41) scale(0.939,1)" font-size="33.04" font-weight="bold" fill="#000">dead:</text>
<text transform="translate(658.81,175.00) scale(0.895,1)" font-size="33.82" font-weight="bold" fill="#000">4.64 %</text>
<text transform="translate(645.56,720.80) scale(0.903,1)" font-size="33.74" font-weight="bold" fill="#000">14.17 %</text>
<text transform="translate(242.27,718.45) scale(0.878,1)" font-size="35.24" font-weight="bold" fill="#000">79.76 %</text>
<text transform="translate(323.00,846.94) scale(0.977,1)" font-size="35.09" fill="#000">Annexin V-FITC</text>
<text transform="translate(25.56,550.52) rotate(-90) scale(1.105,1)" font-size="34.12" fill="#000">Propidium iodide</text>
<text transform="translate(970.17,144.22) scale(0.908,1)" font-size="30.25" font-weight="bold" fill="#000">necrotic :</text>
<text transform="translate(1101.95,145.00) scale(0.888,1)" font-size="34.57" font-weight="bold" fill="#000">1.88 %</text>
<text transform="translate(1505.80,176.41) scale(0.840,1)" font-size="35.96" font-weight="bold" fill="#000">10.44 %</text>
<text transform="translate(1500.26,726.78) scale(0.889,1)" font-size="34.47" font-weight="bold" fill="#000">24.10 %</text>
<text transform="translate(1085.07,733.97) scale(0.912,1)" font-size="33.75" font-weight="bold" fill="#000">63.58 %</text>
<text transform="translate(1188.00,851.45) scale(0.939,1)" font-size="36.44" fill="#000">Annexin V-FITC</text>
<text transform="translate(865.07,570.17) rotate(-90) scale(1.149,1)" font-size="32.53" fill="#000">Propidium iodide</text>
<text transform="translate(637.05,680.14) scale(1.070,1)" font-size="29.28" fill="#000" stroke="#000" stroke-width="0.6">apoptotic:</text>
<text transform="translate(147.18,718.37) scale(0.985,1)" font-size="30.25" fill="#000" stroke="#000" stroke-width="0.6">viable:</text>
<text transform="translate(1523.92,134.43) scale(1.054,1)" font-size="28.31" fill="#000" stroke="#000" stroke-width="0.6">dead:</text>
<text transform="translate(1488.65,686.45) scale(1.043,1)" font-size="29.81" fill="#000" stroke="#000" stroke-width="0.6">apoptotic:</text>
<text transform="translate(986.00,733.18) scale(0.995,1)" font-size="29.57" fill="#000" stroke="#000" stroke-width="0.6">Viable:</text>
<text transform="translate(392.29,59.42) scale(0.963,1)" font-size="32.47" font-weight="bold" fill="#fff">Control</text>
<text transform="translate(1177.07,35.53) scale(0.908,1)" font-size="33.81" font-weight="bold" font-style="italic" fill="#fff">cis-9,trans-11</text>
<text transform="translate(1381.29,35.00) scale(0.925,1)" font-size="33.74" font-weight="bold" fill="#fff">CLA</text>
<text transform="translate(1254.85,76.93) scale(0.949,1)" font-size="33.08" font-weight="bold" fill="#fff">(60 µM)</text>
</svg></body></html>
